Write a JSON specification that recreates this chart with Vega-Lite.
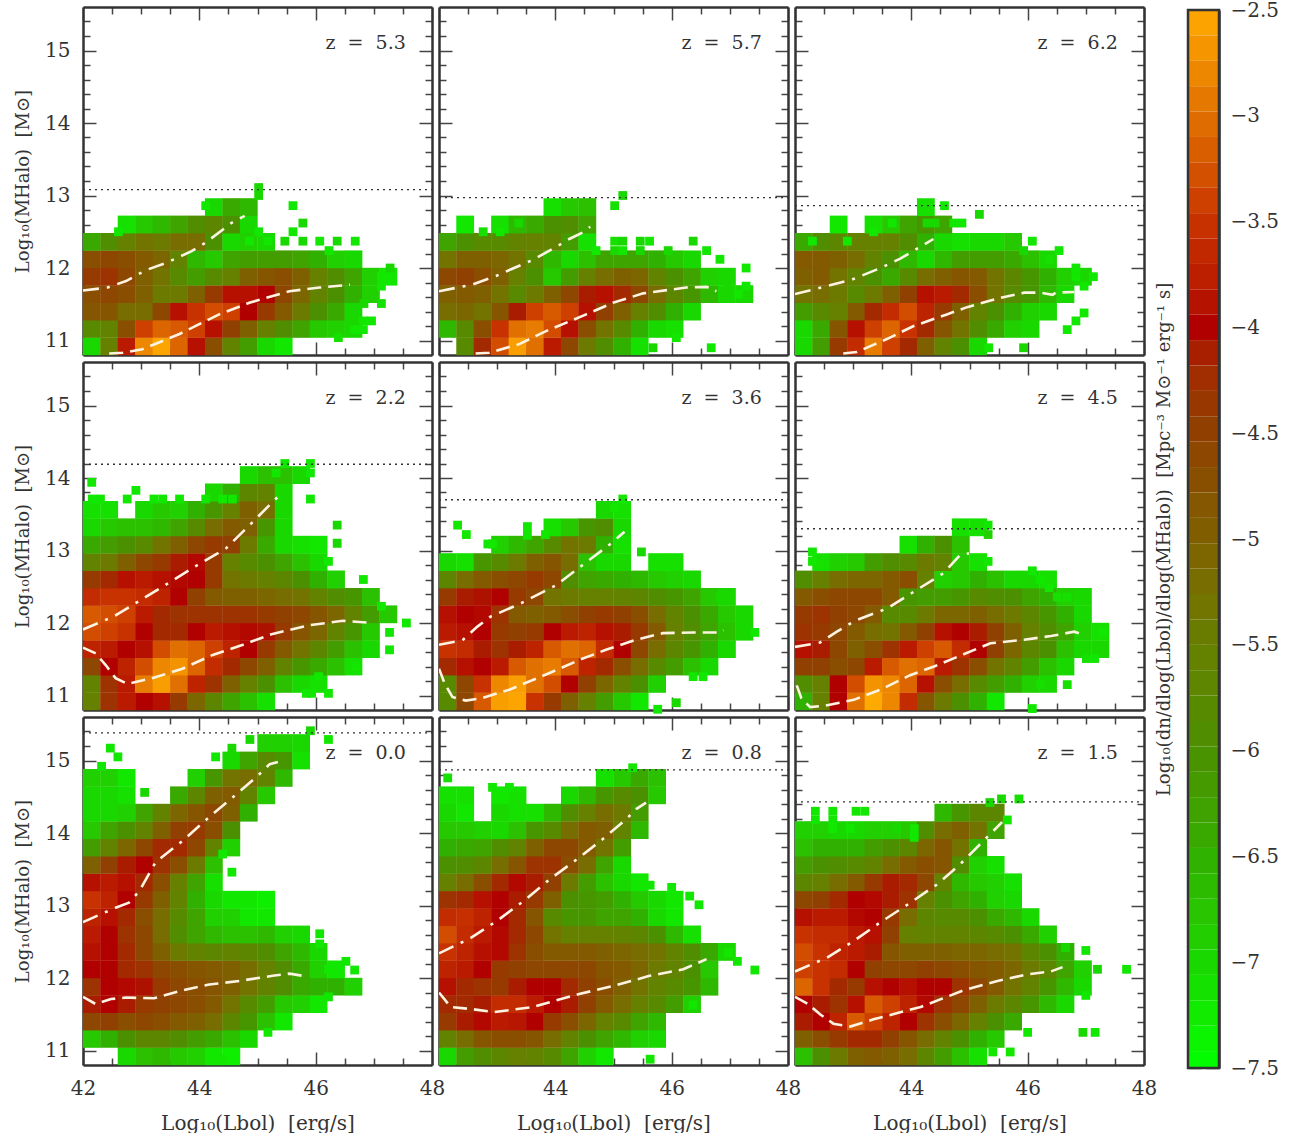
{"$schema":"https://vega.github.io/schema/vega-lite/v6.json","background":"white","padding":{"left":14,"top":0,"right":0,"bottom":0},
"config":{"view":{"stroke":null},"font":"DejaVu Serif","legend":{"disable":true},
"axis":{"grid":false,"domainColor":"#333","domainWidth":2.5,"tickColor":"#444","tickWidth":1.5,"labelColor":"#333","titleColor":"#333","labelFontSize":20,"titleFontSize":18,"titleFontWeight":"normal","zindex":2,"labelOverlap":false,"labelBound":false,"labelFlush":false}},
"datasets":{
"c0":[
{"x":42.75,"y":10.92,"v":-7},{"x":43.05,"y":10.92,"v":-6.7},{"x":43.35,"y":10.92,"v":-6.6},{"x":43.65,"y":10.92,"v":-6.8},{"x":43.95,"y":10.92,"v":-6.9},{"x":44.25,"y":10.92,"v":-7.2},{"x":44.55,"y":10.92,"v":-7.3},
{"x":42.15,"y":11.16,"v":-6.8},{"x":42.45,"y":11.16,"v":-6.5},{"x":42.75,"y":11.16,"v":-6},{"x":43.05,"y":11.16,"v":-5.7},{"x":43.35,"y":11.16,"v":-5.7},{"x":43.65,"y":11.16,"v":-5.9},{"x":43.95,"y":11.16,"v":-6.2},{"x":44.25,"y":11.16,"v":-6.4},{"x":44.55,"y":11.16,"v":-6.7},{"x":44.85,"y":11.16,"v":-7},
{"x":42.15,"y":11.4,"v":-4.6},{"x":42.45,"y":11.4,"v":-4.5},{"x":42.75,"y":11.4,"v":-4.7},{"x":43.05,"y":11.4,"v":-4.6},{"x":43.35,"y":11.4,"v":-4.7},{"x":43.65,"y":11.4,"v":-4.9},{"x":43.95,"y":11.4,"v":-5},{"x":44.25,"y":11.4,"v":-5.2},{"x":44.55,"y":11.4,"v":-5.7},{"x":44.85,"y":11.4,"v":-6.1},{"x":45.15,"y":11.4,"v":-6.7},{"x":45.45,"y":11.4,"v":-7.2},
{"x":42.15,"y":11.64,"v":-4.1},{"x":42.45,"y":11.64,"v":-4},{"x":42.75,"y":11.64,"v":-4.1},{"x":43.05,"y":11.64,"v":-4.4},{"x":43.35,"y":11.64,"v":-4.5},{"x":43.65,"y":11.64,"v":-4.6},{"x":43.95,"y":11.64,"v":-4.7},{"x":44.25,"y":11.64,"v":-4.9},{"x":44.55,"y":11.64,"v":-5.3},{"x":44.85,"y":11.64,"v":-5.8},{"x":45.15,"y":11.64,"v":-6.2},{"x":45.45,"y":11.64,"v":-6.8},{"x":45.75,"y":11.64,"v":-6.9},{"x":46.05,"y":11.64,"v":-7.2},
{"x":42.15,"y":11.88,"v":-4.3},{"x":42.45,"y":11.88,"v":-4},{"x":42.75,"y":11.88,"v":-3.95},{"x":43.05,"y":11.88,"v":-4.05},{"x":43.35,"y":11.88,"v":-4.4},{"x":43.65,"y":11.88,"v":-4.6},{"x":43.95,"y":11.88,"v":-4.7},{"x":44.25,"y":11.88,"v":-4.8},{"x":44.55,"y":11.88,"v":-5},{"x":44.85,"y":11.88,"v":-5.3},{"x":45.15,"y":11.88,"v":-5.6},{"x":45.45,"y":11.88,"v":-5.9},{"x":45.75,"y":11.88,"v":-6.4},{"x":46.05,"y":11.88,"v":-6.5},{"x":46.35,"y":11.88,"v":-6.5},{"x":46.65,"y":11.88,"v":-6.9},
{"x":42.15,"y":12.12,"v":-4},{"x":42.45,"y":12.12,"v":-4},{"x":42.75,"y":12.12,"v":-4.2},{"x":43.05,"y":12.12,"v":-4.3},{"x":43.35,"y":12.12,"v":-4.6},{"x":43.65,"y":12.12,"v":-4.7},{"x":43.95,"y":12.12,"v":-4.8},{"x":44.25,"y":12.12,"v":-4.9},{"x":44.55,"y":12.12,"v":-5},{"x":44.85,"y":12.12,"v":-5.2},{"x":45.15,"y":12.12,"v":-5.5},{"x":45.45,"y":12.12,"v":-5.9},{"x":45.75,"y":12.12,"v":-6.4},{"x":46.05,"y":12.12,"v":-6.9},{"x":46.35,"y":12.12,"v":-7.2},
{"x":42.15,"y":12.36,"v":-3.9},{"x":42.45,"y":12.36,"v":-4},{"x":42.75,"y":12.36,"v":-4.2},{"x":43.05,"y":12.36,"v":-4.6},{"x":43.35,"y":12.36,"v":-5},{"x":43.65,"y":12.36,"v":-5.4},{"x":43.95,"y":12.36,"v":-5.6},{"x":44.25,"y":12.36,"v":-5.7},{"x":44.55,"y":12.36,"v":-5.6},{"x":44.85,"y":12.36,"v":-5.7},{"x":45.15,"y":12.36,"v":-5.9},{"x":45.45,"y":12.36,"v":-6.3},{"x":45.75,"y":12.36,"v":-6.6},{"x":46.05,"y":12.36,"v":-7},
{"x":42.15,"y":12.6,"v":-3.8},{"x":42.45,"y":12.6,"v":-4},{"x":42.75,"y":12.6,"v":-4.3},{"x":43.05,"y":12.6,"v":-4.6},{"x":43.35,"y":12.6,"v":-5.2},{"x":43.65,"y":12.6,"v":-5.9},{"x":43.95,"y":12.6,"v":-6.3},{"x":44.25,"y":12.6,"v":-6.6},{"x":44.55,"y":12.6,"v":-6.7},{"x":44.85,"y":12.6,"v":-6.7},{"x":45.15,"y":12.6,"v":-6.6},{"x":45.45,"y":12.6,"v":-6.9},{"x":45.75,"y":12.6,"v":-7},
{"x":42.15,"y":12.84,"v":-3.7},{"x":42.45,"y":12.84,"v":-3.9},{"x":42.75,"y":12.84,"v":-4.2},{"x":43.05,"y":12.84,"v":-4.7},{"x":43.35,"y":12.84,"v":-5.2},{"x":43.65,"y":12.84,"v":-5.8},{"x":43.95,"y":12.84,"v":-6.3},{"x":44.25,"y":12.84,"v":-6.9},{"x":44.55,"y":12.84,"v":-6.9},{"x":44.85,"y":12.84,"v":-7.2},{"x":45.15,"y":12.84,"v":-7.2},
{"x":42.15,"y":13.08,"v":-3.5},{"x":42.45,"y":13.08,"v":-3.7},{"x":42.75,"y":13.08,"v":-4},{"x":43.05,"y":13.08,"v":-4.4},{"x":43.35,"y":13.08,"v":-5},{"x":43.65,"y":13.08,"v":-5.6},{"x":43.95,"y":13.08,"v":-6.5},{"x":44.25,"y":13.08,"v":-7},{"x":44.55,"y":13.08,"v":-7.2},{"x":44.85,"y":13.08,"v":-7.2},{"x":45.15,"y":13.08,"v":-7.3},
{"x":42.15,"y":13.32,"v":-3.9},{"x":42.45,"y":13.32,"v":-3.8},{"x":42.75,"y":13.32,"v":-3.9},{"x":43.05,"y":13.32,"v":-4.2},{"x":43.35,"y":13.32,"v":-4.7},{"x":43.65,"y":13.32,"v":-5.5},{"x":43.95,"y":13.32,"v":-6.3},{"x":44.25,"y":13.32,"v":-7.1},
{"x":42.15,"y":13.56,"v":-5},{"x":42.45,"y":13.56,"v":-4.5},{"x":42.75,"y":13.56,"v":-4.1},{"x":43.05,"y":13.56,"v":-4},{"x":43.35,"y":13.56,"v":-4.3},{"x":43.65,"y":13.56,"v":-4.7},{"x":43.95,"y":13.56,"v":-5.4},{"x":44.25,"y":13.56,"v":-6.7},
{"x":42.15,"y":13.8,"v":-6.2},{"x":42.45,"y":13.8,"v":-5.6},{"x":42.75,"y":13.8,"v":-5.1},{"x":43.05,"y":13.8,"v":-4.6},{"x":43.35,"y":13.8,"v":-4.2},{"x":43.65,"y":13.8,"v":-4.2},{"x":43.95,"y":13.8,"v":-4.6},{"x":44.25,"y":13.8,"v":-5.6},{"x":44.55,"y":13.8,"v":-6.9},
{"x":42.15,"y":14.04,"v":-6.8},{"x":42.45,"y":14.04,"v":-6.3},{"x":42.75,"y":14.04,"v":-6},{"x":43.05,"y":14.04,"v":-5.6},{"x":43.35,"y":14.04,"v":-5},{"x":43.65,"y":14.04,"v":-4.5},{"x":43.95,"y":14.04,"v":-4.4},{"x":44.25,"y":14.04,"v":-4.7},{"x":44.55,"y":14.04,"v":-6},
{"x":42.15,"y":14.28,"v":-7},{"x":42.45,"y":14.28,"v":-7},{"x":42.75,"y":14.28,"v":-6.9},{"x":43.05,"y":14.28,"v":-6.3},{"x":43.35,"y":14.28,"v":-5.6},{"x":43.65,"y":14.28,"v":-5.1},{"x":43.95,"y":14.28,"v":-4.8},{"x":44.25,"y":14.28,"v":-4.6},{"x":44.55,"y":14.28,"v":-5},{"x":44.85,"y":14.28,"v":-6.5},
{"x":42.15,"y":14.52,"v":-7},{"x":42.45,"y":14.52,"v":-7},{"x":42.75,"y":14.52,"v":-7.1},{"x":43.65,"y":14.52,"v":-6.4},{"x":43.95,"y":14.52,"v":-5.7},{"x":44.25,"y":14.52,"v":-5},{"x":44.55,"y":14.52,"v":-4.9},{"x":44.85,"y":14.52,"v":-5.6},{"x":45.15,"y":14.52,"v":-6.8},
{"x":42.15,"y":14.76,"v":-6.9},{"x":42.45,"y":14.76,"v":-6.9},{"x":42.75,"y":14.76,"v":-7.2},{"x":43.95,"y":14.76,"v":-6.9},{"x":44.25,"y":14.76,"v":-6.1},{"x":44.55,"y":14.76,"v":-5.3},{"x":44.85,"y":14.76,"v":-5.2},{"x":45.15,"y":14.76,"v":-5.6},{"x":45.45,"y":14.76,"v":-6.6},
{"x":44.55,"y":15,"v":-7},{"x":44.85,"y":15,"v":-6.3},{"x":45.15,"y":15,"v":-5.8},{"x":45.45,"y":15,"v":-6.1},{"x":45.75,"y":15,"v":-7.1},
{"x":45.15,"y":15.24,"v":-6.9},{"x":45.45,"y":15.24,"v":-6.9},{"x":45.75,"y":15.24,"v":-7}],
"f0":[{"x":45.91,"y":15.41,"v":-7},{"x":44.87,"y":15.29,"v":-7},{"x":46.22,"y":15.29,"v":-7.2},{"x":42.47,"y":15.17,"v":-7.2},{"x":42.6,"y":15.05,"v":-7.2},{"x":44.56,"y":15.17,"v":-7},{"x":44.28,"y":15.05,"v":-7.2},{"x":42.32,"y":14.92,"v":-7.2},{"x":43.06,"y":14.56,"v":-7},{"x":44.56,"y":13.46,"v":-7.2},{"x":44.4,"y":13.71,"v":-7.2},{"x":46.07,"y":12.61,"v":-7.2},{"x":46.07,"y":12.47,"v":-7.2},{"x":46.52,"y":12.23,"v":-7.2},{"x":46.67,"y":12.11,"v":-7.2},{"x":46.22,"y":11.74,"v":-7.2},{"x":44.4,"y":10.88,"v":-7.2},{"x":45.18,"y":11.25,"v":-7.2},{"x":46.22,"y":12.12,"v":-7.2}],
"a0":[{"x":42,"y":11.74},{"x":42.22,"y":11.64},{"x":42.48,"y":11.71},{"x":42.74,"y":11.73},{"x":43.22,"y":11.72},{"x":43.71,"y":11.83},{"x":44.17,"y":11.91},{"x":44.69,"y":11.96},{"x":45.26,"y":12.03},{"x":45.55,"y":12.06},{"x":45.78,"y":12.03}],
"b0":[{"x":42,"y":12.77},{"x":42.56,"y":12.97},{"x":42.79,"y":13.04},{"x":42.97,"y":13.2},{"x":43.25,"y":13.6},{"x":43.71,"y":13.89},{"x":44.17,"y":14.22},{"x":44.57,"y":14.49},{"x":44.98,"y":14.77},{"x":45.21,"y":14.95},{"x":45.35,"y":14.98}],
"c1":[
{"x":42.15,"y":10.92,"v":-7},{"x":42.45,"y":10.92,"v":-6.2},{"x":42.75,"y":10.92,"v":-5.9},{"x":43.05,"y":10.92,"v":-5.7},{"x":43.35,"y":10.92,"v":-5.5},{"x":43.65,"y":10.92,"v":-5.6},{"x":43.95,"y":10.92,"v":-5.8},{"x":44.25,"y":10.92,"v":-6.3},{"x":44.55,"y":10.92,"v":-6.9},{"x":44.85,"y":10.92,"v":-7.2},
{"x":42.15,"y":11.16,"v":-5.6},{"x":42.45,"y":11.16,"v":-5.2},{"x":42.75,"y":11.16,"v":-4.8},{"x":43.05,"y":11.16,"v":-4.7},{"x":43.35,"y":11.16,"v":-4.7},{"x":43.65,"y":11.16,"v":-4.8},{"x":43.95,"y":11.16,"v":-5.2},{"x":44.25,"y":11.16,"v":-5.6},{"x":44.55,"y":11.16,"v":-6},{"x":44.85,"y":11.16,"v":-6.3},{"x":45.15,"y":11.16,"v":-6.6},{"x":45.45,"y":11.16,"v":-6.9},{"x":45.75,"y":11.16,"v":-7},
{"x":42.15,"y":11.4,"v":-4.4},{"x":42.45,"y":11.4,"v":-4.1},{"x":42.75,"y":11.4,"v":-3.95},{"x":43.05,"y":11.4,"v":-3.8},{"x":43.35,"y":11.4,"v":-3.85},{"x":43.65,"y":11.4,"v":-4},{"x":43.95,"y":11.4,"v":-4.4},{"x":44.25,"y":11.4,"v":-4.7},{"x":44.55,"y":11.4,"v":-5.1},{"x":44.85,"y":11.4,"v":-5.5},{"x":45.15,"y":11.4,"v":-5.8},{"x":45.45,"y":11.4,"v":-6.3},{"x":45.75,"y":11.4,"v":-6.6},
{"x":42.15,"y":11.64,"v":-4.2},{"x":42.45,"y":11.64,"v":-4.2},{"x":42.75,"y":11.64,"v":-4.1},{"x":43.05,"y":11.64,"v":-3.6},{"x":43.35,"y":11.64,"v":-3.6},{"x":43.65,"y":11.64,"v":-3.8},{"x":43.95,"y":11.64,"v":-4},{"x":44.25,"y":11.64,"v":-4.1},{"x":44.55,"y":11.64,"v":-4.5},{"x":44.85,"y":11.64,"v":-4.9},{"x":45.15,"y":11.64,"v":-5.2},{"x":45.45,"y":11.64,"v":-5.5},{"x":45.75,"y":11.64,"v":-5.8},{"x":46.05,"y":11.64,"v":-6.2},{"x":46.35,"y":11.64,"v":-6.9},
{"x":42.15,"y":11.88,"v":-3.9},{"x":42.45,"y":11.88,"v":-4.2},{"x":42.75,"y":11.88,"v":-4.3},{"x":43.05,"y":11.88,"v":-4.4},{"x":43.35,"y":11.88,"v":-4.1},{"x":43.65,"y":11.88,"v":-4},{"x":43.95,"y":11.88,"v":-4},{"x":44.25,"y":11.88,"v":-4.2},{"x":44.55,"y":11.88,"v":-4.5},{"x":44.85,"y":11.88,"v":-4.7},{"x":45.15,"y":11.88,"v":-5},{"x":45.45,"y":11.88,"v":-5.3},{"x":45.75,"y":11.88,"v":-5.6},{"x":46.05,"y":11.88,"v":-5.8},{"x":46.35,"y":11.88,"v":-6.1},{"x":46.65,"y":11.88,"v":-6.6},
{"x":42.15,"y":12.12,"v":-3.7},{"x":42.45,"y":12.12,"v":-3.8},{"x":42.75,"y":12.12,"v":-4},{"x":43.05,"y":12.12,"v":-4.4},{"x":43.35,"y":12.12,"v":-4.5},{"x":43.65,"y":12.12,"v":-4.6},{"x":43.95,"y":12.12,"v":-4.6},{"x":44.25,"y":12.12,"v":-4.6},{"x":44.55,"y":12.12,"v":-4.6},{"x":44.85,"y":12.12,"v":-4.8},{"x":45.15,"y":12.12,"v":-4.9},{"x":45.45,"y":12.12,"v":-5.1},{"x":45.75,"y":12.12,"v":-5.4},{"x":46.05,"y":12.12,"v":-5.6},{"x":46.35,"y":12.12,"v":-6},{"x":46.65,"y":12.12,"v":-6.8},
{"x":42.15,"y":12.36,"v":-3.5},{"x":42.45,"y":12.36,"v":-3.7},{"x":42.75,"y":12.36,"v":-3.9},{"x":43.05,"y":12.36,"v":-3.95},{"x":43.35,"y":12.36,"v":-4.3},{"x":43.65,"y":12.36,"v":-4.7},{"x":43.95,"y":12.36,"v":-4.9},{"x":44.25,"y":12.36,"v":-4.9},{"x":44.55,"y":12.36,"v":-4.9},{"x":44.85,"y":12.36,"v":-5},{"x":45.15,"y":12.36,"v":-5.1},{"x":45.45,"y":12.36,"v":-5.2},{"x":45.75,"y":12.36,"v":-5.3},{"x":46.05,"y":12.36,"v":-5.6},{"x":46.35,"y":12.36,"v":-5.9},{"x":46.65,"y":12.36,"v":-6.4},{"x":46.95,"y":12.36,"v":-7},
{"x":42.15,"y":12.6,"v":-3.3},{"x":42.45,"y":12.6,"v":-3.6},{"x":42.75,"y":12.6,"v":-3.8},{"x":43.05,"y":12.6,"v":-3.95},{"x":43.35,"y":12.6,"v":-4.2},{"x":43.65,"y":12.6,"v":-4.6},{"x":43.95,"y":12.6,"v":-5.3},{"x":44.25,"y":12.6,"v":-5.5},{"x":44.55,"y":12.6,"v":-5.5},{"x":44.85,"y":12.6,"v":-5.5},{"x":45.15,"y":12.6,"v":-5.6},{"x":45.45,"y":12.6,"v":-5.7},{"x":45.75,"y":12.6,"v":-6},{"x":46.05,"y":12.6,"v":-6.6},{"x":46.35,"y":12.6,"v":-7.1},
{"x":42.15,"y":12.84,"v":-3.6},{"x":42.45,"y":12.84,"v":-3.55},{"x":42.75,"y":12.84,"v":-3.7},{"x":43.05,"y":12.84,"v":-4},{"x":43.35,"y":12.84,"v":-4.2},{"x":43.65,"y":12.84,"v":-4.8},{"x":43.95,"y":12.84,"v":-5.8},{"x":44.25,"y":12.84,"v":-6.1},{"x":44.55,"y":12.84,"v":-6.1},{"x":44.85,"y":12.84,"v":-6.3},{"x":45.15,"y":12.84,"v":-6.3},{"x":45.45,"y":12.84,"v":-6.5},{"x":45.75,"y":12.84,"v":-7},{"x":46.05,"y":12.84,"v":-7.2},
{"x":42.15,"y":13.08,"v":-4.3},{"x":42.45,"y":13.08,"v":-4.2},{"x":42.75,"y":13.08,"v":-3.9},{"x":43.05,"y":13.08,"v":-4},{"x":43.35,"y":13.08,"v":-4.1},{"x":43.65,"y":13.08,"v":-4.4},{"x":43.95,"y":13.08,"v":-5},{"x":44.25,"y":13.08,"v":-6},{"x":44.55,"y":13.08,"v":-6.1},{"x":44.85,"y":13.08,"v":-6.2},{"x":45.15,"y":13.08,"v":-6.5},{"x":45.45,"y":13.08,"v":-6.8},{"x":45.75,"y":13.08,"v":-7},{"x":46.05,"y":13.08,"v":-7.2},
{"x":42.15,"y":13.32,"v":-5.5},{"x":42.45,"y":13.32,"v":-5.2},{"x":42.75,"y":13.32,"v":-4.7},{"x":43.05,"y":13.32,"v":-4.2},{"x":43.35,"y":13.32,"v":-3.95},{"x":43.65,"y":13.32,"v":-4.1},{"x":43.95,"y":13.32,"v":-4.5},{"x":44.25,"y":13.32,"v":-5.4},{"x":44.55,"y":13.32,"v":-6.2},{"x":44.85,"y":13.32,"v":-6.7},{"x":45.15,"y":13.32,"v":-7},{"x":45.45,"y":13.32,"v":-7.2},
{"x":42.15,"y":13.56,"v":-6},{"x":42.45,"y":13.56,"v":-5.9},{"x":42.75,"y":13.56,"v":-5.7},{"x":43.05,"y":13.56,"v":-5.2},{"x":43.35,"y":13.56,"v":-4.8},{"x":43.65,"y":13.56,"v":-4.3},{"x":43.95,"y":13.56,"v":-4.3},{"x":44.25,"y":13.56,"v":-4.7},{"x":44.55,"y":13.56,"v":-5.2},{"x":44.85,"y":13.56,"v":-6.3},{"x":45.15,"y":13.56,"v":-7},
{"x":42.15,"y":13.8,"v":-6.5},{"x":42.45,"y":13.8,"v":-6.4},{"x":42.75,"y":13.8,"v":-6.3},{"x":43.05,"y":13.8,"v":-5.9},{"x":43.35,"y":13.8,"v":-5.6},{"x":43.65,"y":13.8,"v":-5},{"x":43.95,"y":13.8,"v":-4.6},{"x":44.25,"y":13.8,"v":-4.6},{"x":44.55,"y":13.8,"v":-4.9},{"x":44.85,"y":13.8,"v":-5.3},{"x":45.15,"y":13.8,"v":-6.2},
{"x":42.15,"y":14.04,"v":-6.8},{"x":42.45,"y":14.04,"v":-6.8},{"x":42.75,"y":14.04,"v":-6.9},{"x":43.05,"y":14.04,"v":-7},{"x":43.35,"y":14.04,"v":-6.7},{"x":43.65,"y":14.04,"v":-6.1},{"x":43.95,"y":14.04,"v":-5.8},{"x":44.25,"y":14.04,"v":-5.2},{"x":44.55,"y":14.04,"v":-4.9},{"x":44.85,"y":14.04,"v":-5},{"x":45.15,"y":14.04,"v":-5.6},{"x":45.45,"y":14.04,"v":-6.6},
{"x":42.15,"y":14.28,"v":-7},{"x":42.45,"y":14.28,"v":-7.2},{"x":43.05,"y":14.28,"v":-7},{"x":43.35,"y":14.28,"v":-7.1},{"x":43.65,"y":14.28,"v":-7.1},{"x":43.95,"y":14.28,"v":-6.6},{"x":44.25,"y":14.28,"v":-5.9},{"x":44.55,"y":14.28,"v":-5.5},{"x":44.85,"y":14.28,"v":-5.2},{"x":45.15,"y":14.28,"v":-5.4},{"x":45.45,"y":14.28,"v":-6.2},
{"x":42.15,"y":14.52,"v":-7.1},{"x":42.45,"y":14.52,"v":-7.1},{"x":43.05,"y":14.52,"v":-7.2},{"x":43.35,"y":14.52,"v":-7.1},{"x":44.25,"y":14.52,"v":-7},{"x":44.55,"y":14.52,"v":-6.6},{"x":44.85,"y":14.52,"v":-6.1},{"x":45.15,"y":14.52,"v":-5.8},{"x":45.45,"y":14.52,"v":-6},{"x":45.75,"y":14.52,"v":-6.8},
{"x":44.85,"y":14.76,"v":-7.1},{"x":45.15,"y":14.76,"v":-6.8},{"x":45.45,"y":14.76,"v":-6.4},{"x":45.75,"y":14.76,"v":-6.7}],
"f1":[{"x":42.15,"y":14.76,"v":-7.1},{"x":42.92,"y":14.63,"v":-7.2},{"x":43.21,"y":14.63,"v":-7.2},{"x":43.06,"y":14.51,"v":-7.2},{"x":45.33,"y":14.9,"v":-7.2},{"x":45.63,"y":10.88,"v":-7.2},{"x":47.43,"y":12.11,"v":-7.2},{"x":47.13,"y":12.23,"v":-7.2},{"x":46.98,"y":12.35,"v":-7.2},{"x":46.37,"y":11.63,"v":-7.2},{"x":45.63,"y":13.28,"v":-7.2},{"x":46,"y":13.25,"v":-7.2},{"x":46.31,"y":13.13,"v":-7.2},{"x":46.47,"y":13.01,"v":-7.2}],
"a1":[{"x":42,"y":11.8},{"x":42.2,"y":11.6},{"x":42.57,"y":11.57},{"x":42.95,"y":11.53},{"x":43.61,"y":11.6},{"x":44.41,"y":11.78},{"x":45,"y":11.89},{"x":45.62,"y":12.03},{"x":46.2,"y":12.12},{"x":46.6,"y":12.26}],
"b1":[{"x":42,"y":12.34},{"x":42.52,"y":12.54},{"x":43,"y":12.79},{"x":43.47,"y":13.07},{"x":43.9,"y":13.36},{"x":44.36,"y":13.63},{"x":44.79,"y":13.9},{"x":45.22,"y":14.19},{"x":45.39,"y":14.33},{"x":45.56,"y":14.42}],
"c2":[
{"x":42.15,"y":10.92,"v":-6.7},{"x":42.45,"y":10.92,"v":-6},{"x":42.75,"y":10.92,"v":-5.4},{"x":43.05,"y":10.92,"v":-5},{"x":43.35,"y":10.92,"v":-4.9},{"x":43.65,"y":10.92,"v":-5},{"x":43.95,"y":10.92,"v":-5.2},{"x":44.25,"y":10.92,"v":-5.7},{"x":44.55,"y":10.92,"v":-6.2},{"x":44.85,"y":10.92,"v":-6.7},{"x":45.15,"y":10.92,"v":-7.1},
{"x":42.15,"y":11.16,"v":-5},{"x":42.45,"y":11.16,"v":-4.7},{"x":42.75,"y":11.16,"v":-4.4},{"x":43.05,"y":11.16,"v":-4.2},{"x":43.35,"y":11.16,"v":-4.2},{"x":43.65,"y":11.16,"v":-4.5},{"x":43.95,"y":11.16,"v":-4.8},{"x":44.25,"y":11.16,"v":-5.2},{"x":44.55,"y":11.16,"v":-5.6},{"x":44.85,"y":11.16,"v":-6},{"x":45.15,"y":11.16,"v":-6.5},{"x":45.45,"y":11.16,"v":-6.8},
{"x":42.15,"y":11.4,"v":-4.1},{"x":42.45,"y":11.4,"v":-4},{"x":42.75,"y":11.4,"v":-3.7},{"x":43.05,"y":11.4,"v":-3.2},{"x":43.35,"y":11.4,"v":-3.4},{"x":43.65,"y":11.4,"v":-3.7},{"x":43.95,"y":11.4,"v":-4},{"x":44.25,"y":11.4,"v":-4.3},{"x":44.55,"y":11.4,"v":-4.7},{"x":44.85,"y":11.4,"v":-5.1},{"x":45.15,"y":11.4,"v":-5.5},{"x":45.45,"y":11.4,"v":-6},{"x":45.75,"y":11.4,"v":-6.4},
{"x":42.15,"y":11.64,"v":-4},{"x":42.45,"y":11.64,"v":-4.1},{"x":42.75,"y":11.64,"v":-4.3},{"x":43.05,"y":11.64,"v":-3.9},{"x":43.35,"y":11.64,"v":-3.2},{"x":43.65,"y":11.64,"v":-3.4},{"x":43.95,"y":11.64,"v":-3.7},{"x":44.25,"y":11.64,"v":-3.95},{"x":44.55,"y":11.64,"v":-4.3},{"x":44.85,"y":11.64,"v":-4.6},{"x":45.15,"y":11.64,"v":-5},{"x":45.45,"y":11.64,"v":-5.4},{"x":45.75,"y":11.64,"v":-5.7},{"x":46.05,"y":11.64,"v":-6.1},{"x":46.35,"y":11.64,"v":-6.6},{"x":46.65,"y":11.64,"v":-7},
{"x":42.15,"y":11.88,"v":-3.1},{"x":42.45,"y":11.88,"v":-3.5},{"x":42.75,"y":11.88,"v":-4.2},{"x":43.05,"y":11.88,"v":-4.4},{"x":43.35,"y":11.88,"v":-3.9},{"x":43.65,"y":11.88,"v":-4},{"x":43.95,"y":11.88,"v":-3.9},{"x":44.25,"y":11.88,"v":-4},{"x":44.55,"y":11.88,"v":-4},{"x":44.85,"y":11.88,"v":-4.3},{"x":45.15,"y":11.88,"v":-4.6},{"x":45.45,"y":11.88,"v":-4.9},{"x":45.75,"y":11.88,"v":-5.3},{"x":46.05,"y":11.88,"v":-5.6},{"x":46.35,"y":11.88,"v":-6.1},{"x":46.65,"y":11.88,"v":-6.6},{"x":46.95,"y":11.88,"v":-7},
{"x":42.15,"y":12.12,"v":-3.4},{"x":42.45,"y":12.12,"v":-3.5},{"x":42.75,"y":12.12,"v":-3.6},{"x":43.05,"y":12.12,"v":-4},{"x":43.35,"y":12.12,"v":-4.5},{"x":43.65,"y":12.12,"v":-4.6},{"x":43.95,"y":12.12,"v":-4.6},{"x":44.25,"y":12.12,"v":-4.5},{"x":44.55,"y":12.12,"v":-4.6},{"x":44.85,"y":12.12,"v":-4.7},{"x":45.15,"y":12.12,"v":-4.8},{"x":45.45,"y":12.12,"v":-4.9},{"x":45.75,"y":12.12,"v":-5.1},{"x":46.05,"y":12.12,"v":-5.4},{"x":46.35,"y":12.12,"v":-5.7},{"x":46.65,"y":12.12,"v":-6.3},{"x":46.95,"y":12.12,"v":-6.9},
{"x":42.15,"y":12.36,"v":-3.3},{"x":42.45,"y":12.36,"v":-3.5},{"x":42.75,"y":12.36,"v":-3.7},{"x":43.05,"y":12.36,"v":-3.8},{"x":43.35,"y":12.36,"v":-4.1},{"x":43.65,"y":12.36,"v":-4.8},{"x":43.95,"y":12.36,"v":-5},{"x":44.25,"y":12.36,"v":-5},{"x":44.55,"y":12.36,"v":-5},{"x":44.85,"y":12.36,"v":-5.1},{"x":45.15,"y":12.36,"v":-5.1},{"x":45.45,"y":12.36,"v":-5.2},{"x":45.75,"y":12.36,"v":-5.3},{"x":46.05,"y":12.36,"v":-5.7},{"x":46.35,"y":12.36,"v":-6},{"x":46.65,"y":12.36,"v":-6.5},
{"x":42.15,"y":12.6,"v":-3.5},{"x":42.45,"y":12.6,"v":-3.6},{"x":42.75,"y":12.6,"v":-3.6},{"x":43.05,"y":12.6,"v":-3.8},{"x":43.35,"y":12.6,"v":-3.9},{"x":43.65,"y":12.6,"v":-4.5},{"x":43.95,"y":12.6,"v":-5.5},{"x":44.25,"y":12.6,"v":-5.6},{"x":44.55,"y":12.6,"v":-5.6},{"x":44.85,"y":12.6,"v":-5.6},{"x":45.15,"y":12.6,"v":-5.7},{"x":45.45,"y":12.6,"v":-5.8},{"x":45.75,"y":12.6,"v":-6},{"x":46.05,"y":12.6,"v":-6.4},{"x":46.35,"y":12.6,"v":-6.9},
{"x":42.15,"y":12.84,"v":-3.9},{"x":42.45,"y":12.84,"v":-3.8},{"x":42.75,"y":12.84,"v":-3.8},{"x":43.05,"y":12.84,"v":-3.95},{"x":43.35,"y":12.84,"v":-4},{"x":43.65,"y":12.84,"v":-4.4},{"x":43.95,"y":12.84,"v":-5.2},{"x":44.25,"y":12.84,"v":-5.7},{"x":44.55,"y":12.84,"v":-5.8},{"x":44.85,"y":12.84,"v":-5.8},{"x":45.15,"y":12.84,"v":-6},{"x":45.45,"y":12.84,"v":-6.4},{"x":45.75,"y":12.84,"v":-6.6},{"x":46.05,"y":12.84,"v":-7},
{"x":42.15,"y":13.08,"v":-4.6},{"x":42.45,"y":13.08,"v":-4.5},{"x":42.75,"y":13.08,"v":-4.2},{"x":43.05,"y":13.08,"v":-4},{"x":43.35,"y":13.08,"v":-3.95},{"x":43.65,"y":13.08,"v":-4.1},{"x":43.95,"y":13.08,"v":-4.3},{"x":44.25,"y":13.08,"v":-5.5},{"x":44.55,"y":13.08,"v":-6},{"x":44.85,"y":13.08,"v":-6.3},{"x":45.15,"y":13.08,"v":-6.5},{"x":45.45,"y":13.08,"v":-6.9},{"x":45.75,"y":13.08,"v":-7},
{"x":42.15,"y":13.32,"v":-5.7},{"x":42.45,"y":13.32,"v":-5.5},{"x":42.75,"y":13.32,"v":-5.2},{"x":43.05,"y":13.32,"v":-4.9},{"x":43.35,"y":13.32,"v":-4.4},{"x":43.65,"y":13.32,"v":-4.1},{"x":43.95,"y":13.32,"v":-4.2},{"x":44.25,"y":13.32,"v":-4.6},{"x":44.55,"y":13.32,"v":-5.6},{"x":44.85,"y":13.32,"v":-6.6},{"x":45.15,"y":13.32,"v":-6.8},{"x":45.45,"y":13.32,"v":-6.9},{"x":45.75,"y":13.32,"v":-7.1},
{"x":42.15,"y":13.56,"v":-6.2},{"x":42.45,"y":13.56,"v":-6},{"x":42.75,"y":13.56,"v":-5.9},{"x":43.05,"y":13.56,"v":-5.8},{"x":43.35,"y":13.56,"v":-5.6},{"x":43.65,"y":13.56,"v":-5.2},{"x":43.95,"y":13.56,"v":-4.9},{"x":44.25,"y":13.56,"v":-4.7},{"x":44.55,"y":13.56,"v":-4.8},{"x":44.85,"y":13.56,"v":-5.9},{"x":45.15,"y":13.56,"v":-6.9},{"x":45.45,"y":13.56,"v":-7.1},
{"x":42.15,"y":13.8,"v":-6.7},{"x":42.45,"y":13.8,"v":-6.5},{"x":42.75,"y":13.8,"v":-6.5},{"x":43.05,"y":13.8,"v":-6.5},{"x":43.35,"y":13.8,"v":-6.2},{"x":43.65,"y":13.8,"v":-6},{"x":43.95,"y":13.8,"v":-5.7},{"x":44.25,"y":13.8,"v":-5.1},{"x":44.55,"y":13.8,"v":-4.8},{"x":44.85,"y":13.8,"v":-5.3},{"x":45.15,"y":13.8,"v":-6.5},
{"x":42.15,"y":14.04,"v":-6.9},{"x":42.45,"y":14.04,"v":-6.9},{"x":42.75,"y":14.04,"v":-7},{"x":43.05,"y":14.04,"v":-7},{"x":43.35,"y":14.04,"v":-6.9},{"x":43.65,"y":14.04,"v":-6.9},{"x":43.95,"y":14.04,"v":-6.8},{"x":44.25,"y":14.04,"v":-5.9},{"x":44.55,"y":14.04,"v":-5.2},{"x":44.85,"y":14.04,"v":-5},{"x":45.15,"y":14.04,"v":-5.3},{"x":45.45,"y":14.04,"v":-6.3},
{"x":44.55,"y":14.28,"v":-6.6},{"x":44.85,"y":14.28,"v":-6.1},{"x":45.15,"y":14.28,"v":-5.7},{"x":45.45,"y":14.28,"v":-5.7}],
"f2":[{"x":42.35,"y":14.18,"v":-7.2},{"x":42.65,"y":14.18,"v":-7.2},{"x":42.35,"y":14.3,"v":-7.2},{"x":42.65,"y":14.3,"v":-7.2},{"x":42.65,"y":14.06,"v":-7.2},{"x":43.2,"y":14.3,"v":-7.2},{"x":42.95,"y":14.06,"v":-7.2},{"x":43.05,"y":14.3,"v":-7.2},{"x":43.75,"y":14.06,"v":-7},{"x":44.05,"y":14.06,"v":-7.2},{"x":44.05,"y":13.94,"v":-7.2},{"x":45.55,"y":14.47,"v":-7},{"x":45.85,"y":14.47,"v":-7.1},{"x":45.35,"y":14.42,"v":-7},{"x":45.65,"y":14.18,"v":-7.2},{"x":47.16,"y":11.25,"v":-7.2},{"x":46.95,"y":11.25,"v":-7},{"x":47,"y":12.38,"v":-7.2},{"x":47.2,"y":12.12,"v":-7},{"x":47.7,"y":12.12,"v":-7.2},{"x":47,"y":11.76,"v":-7.2},{"x":45.7,"y":10.98,"v":-7.2},{"x":45.4,"y":10.98,"v":-7.2},{"x":46,"y":11.25,"v":-7.2},{"x":46.65,"y":12.42,"v":-7}],
"a2":[{"x":42,"y":11.74},{"x":42.23,"y":11.64},{"x":42.43,"y":11.5},{"x":42.66,"y":11.37},{"x":42.95,"y":11.33},{"x":43.35,"y":11.43},{"x":44.16,"y":11.6},{"x":44.9,"y":11.83},{"x":45.48,"y":11.96},{"x":45.99,"y":12.05},{"x":46.4,"y":12.09},{"x":46.6,"y":12.15}],
"b2":[{"x":42,"y":12.09},{"x":42.55,"y":12.28},{"x":43.01,"y":12.51},{"x":43.49,"y":12.78},{"x":43.95,"y":13.02},{"x":44.44,"y":13.29},{"x":44.84,"y":13.57},{"x":45.25,"y":13.9},{"x":45.56,"y":14.15}],
"c3":[
{"x":42.15,"y":10.92,"v":-5.5},{"x":42.45,"y":10.92,"v":-4.3},{"x":42.75,"y":10.92,"v":-3.8},{"x":43.05,"y":10.92,"v":-4},{"x":43.35,"y":10.92,"v":-3.9},{"x":43.65,"y":10.92,"v":-4.4},{"x":43.95,"y":10.92,"v":-5.1},{"x":44.25,"y":10.92,"v":-5.7},{"x":44.55,"y":10.92,"v":-6.3},{"x":44.85,"y":10.92,"v":-6.7},{"x":45.15,"y":10.92,"v":-7.1},
{"x":42.15,"y":11.16,"v":-5.6},{"x":42.45,"y":11.16,"v":-4.3},{"x":42.75,"y":11.16,"v":-3.8},{"x":43.05,"y":11.16,"v":-2.9},{"x":43.35,"y":11.16,"v":-2.6},{"x":43.65,"y":11.16,"v":-3},{"x":43.95,"y":11.16,"v":-3.7},{"x":44.25,"y":11.16,"v":-4.3},{"x":44.55,"y":11.16,"v":-5},{"x":44.85,"y":11.16,"v":-5.5},{"x":45.15,"y":11.16,"v":-6},{"x":45.45,"y":11.16,"v":-6.7},{"x":45.75,"y":11.16,"v":-7},{"x":46.05,"y":11.16,"v":-7.1},
{"x":42.15,"y":11.4,"v":-4.6},{"x":42.45,"y":11.4,"v":-4},{"x":42.75,"y":11.4,"v":-3.7},{"x":43.05,"y":11.4,"v":-3.3},{"x":43.35,"y":11.4,"v":-2.8},{"x":43.65,"y":11.4,"v":-2.7},{"x":43.95,"y":11.4,"v":-3.1},{"x":44.25,"y":11.4,"v":-3.6},{"x":44.55,"y":11.4,"v":-4.2},{"x":44.85,"y":11.4,"v":-4.6},{"x":45.15,"y":11.4,"v":-5},{"x":45.45,"y":11.4,"v":-5.6},{"x":45.75,"y":11.4,"v":-6.1},{"x":46.05,"y":11.4,"v":-6.4},{"x":46.35,"y":11.4,"v":-6.7},{"x":46.65,"y":11.4,"v":-7.1},
{"x":42.15,"y":11.64,"v":-3.7},{"x":42.45,"y":11.64,"v":-3.8},{"x":42.75,"y":11.64,"v":-4},{"x":43.05,"y":11.64,"v":-3.9},{"x":43.35,"y":11.64,"v":-3.3},{"x":43.65,"y":11.64,"v":-3},{"x":43.95,"y":11.64,"v":-3.1},{"x":44.25,"y":11.64,"v":-3.4},{"x":44.55,"y":11.64,"v":-3.7},{"x":44.85,"y":11.64,"v":-4},{"x":45.15,"y":11.64,"v":-4.4},{"x":45.45,"y":11.64,"v":-4.9},{"x":45.75,"y":11.64,"v":-5.3},{"x":46.05,"y":11.64,"v":-5.7},{"x":46.35,"y":11.64,"v":-6.2},{"x":46.65,"y":11.64,"v":-6.7},{"x":46.95,"y":11.64,"v":-7},
{"x":42.15,"y":11.88,"v":-3.3},{"x":42.45,"y":11.88,"v":-3.4},{"x":42.75,"y":11.88,"v":-3.5},{"x":43.05,"y":11.88,"v":-4},{"x":43.35,"y":11.88,"v":-4.2},{"x":43.65,"y":11.88,"v":-4.2},{"x":43.95,"y":11.88,"v":-4},{"x":44.25,"y":11.88,"v":-3.8},{"x":44.55,"y":11.88,"v":-3.9},{"x":44.85,"y":11.88,"v":-3.95},{"x":45.15,"y":11.88,"v":-4.05},{"x":45.45,"y":11.88,"v":-4.4},{"x":45.75,"y":11.88,"v":-4.8},{"x":46.05,"y":11.88,"v":-5.1},{"x":46.35,"y":11.88,"v":-5.6},{"x":46.65,"y":11.88,"v":-6.1},{"x":46.95,"y":11.88,"v":-6.8},
{"x":42.15,"y":12.12,"v":-3.2},{"x":42.45,"y":12.12,"v":-3.3},{"x":42.75,"y":12.12,"v":-3.4},{"x":43.05,"y":12.12,"v":-3.8},{"x":43.35,"y":12.12,"v":-4.2},{"x":43.65,"y":12.12,"v":-4.3},{"x":43.95,"y":12.12,"v":-4.3},{"x":44.25,"y":12.12,"v":-4.3},{"x":44.55,"y":12.12,"v":-4.3},{"x":44.85,"y":12.12,"v":-4.3},{"x":45.15,"y":12.12,"v":-4.4},{"x":45.45,"y":12.12,"v":-4.5},{"x":45.75,"y":12.12,"v":-4.6},{"x":46.05,"y":12.12,"v":-4.8},{"x":46.35,"y":12.12,"v":-5.1},{"x":46.65,"y":12.12,"v":-5.6},{"x":46.95,"y":12.12,"v":-6.2},{"x":47.25,"y":12.12,"v":-6.8},
{"x":42.15,"y":12.36,"v":-3.6},{"x":42.45,"y":12.36,"v":-3.5},{"x":42.75,"y":12.36,"v":-3.5},{"x":43.05,"y":12.36,"v":-3.6},{"x":43.35,"y":12.36,"v":-3.7},{"x":43.65,"y":12.36,"v":-4},{"x":43.95,"y":12.36,"v":-4.5},{"x":44.25,"y":12.36,"v":-4.9},{"x":44.55,"y":12.36,"v":-5},{"x":44.85,"y":12.36,"v":-5},{"x":45.15,"y":12.36,"v":-5.1},{"x":45.45,"y":12.36,"v":-5.2},{"x":45.75,"y":12.36,"v":-5.3},{"x":46.05,"y":12.36,"v":-5.6},{"x":46.35,"y":12.36,"v":-5.9},{"x":46.65,"y":12.36,"v":-6.1},{"x":46.95,"y":12.36,"v":-6.7},
{"x":42.15,"y":12.6,"v":-4.4},{"x":42.45,"y":12.6,"v":-4.2},{"x":42.75,"y":12.6,"v":-3.9},{"x":43.05,"y":12.6,"v":-3.8},{"x":43.35,"y":12.6,"v":-3.9},{"x":43.65,"y":12.6,"v":-3.95},{"x":43.95,"y":12.6,"v":-4},{"x":44.25,"y":12.6,"v":-4.4},{"x":44.55,"y":12.6,"v":-5.3},{"x":44.85,"y":12.6,"v":-5.4},{"x":45.15,"y":12.6,"v":-5.5},{"x":45.45,"y":12.6,"v":-5.7},{"x":45.75,"y":12.6,"v":-6},{"x":46.05,"y":12.6,"v":-6.5},{"x":46.35,"y":12.6,"v":-6.9},
{"x":42.15,"y":12.84,"v":-5.6},{"x":42.45,"y":12.84,"v":-5.4},{"x":42.75,"y":12.84,"v":-5},{"x":43.05,"y":12.84,"v":-4.6},{"x":43.35,"y":12.84,"v":-4.4},{"x":43.65,"y":12.84,"v":-4.1},{"x":43.95,"y":12.84,"v":-3.95},{"x":44.25,"y":12.84,"v":-4.4},{"x":44.55,"y":12.84,"v":-5.5},{"x":44.85,"y":12.84,"v":-5.8},{"x":45.15,"y":12.84,"v":-6},{"x":45.45,"y":12.84,"v":-6.3},{"x":45.75,"y":12.84,"v":-6.7},{"x":46.05,"y":12.84,"v":-7},
{"x":42.15,"y":13.08,"v":-6.4},{"x":42.45,"y":13.08,"v":-6.2},{"x":42.75,"y":13.08,"v":-6},{"x":43.05,"y":13.08,"v":-5.8},{"x":43.35,"y":13.08,"v":-5.3},{"x":43.65,"y":13.08,"v":-5},{"x":43.95,"y":13.08,"v":-4.6},{"x":44.25,"y":13.08,"v":-4.4},{"x":44.55,"y":13.08,"v":-4.5},{"x":44.85,"y":13.08,"v":-5.4},{"x":45.15,"y":13.08,"v":-6.4},{"x":45.45,"y":13.08,"v":-7},{"x":45.75,"y":13.08,"v":-7.1},{"x":46.05,"y":13.08,"v":-7.2},
{"x":42.15,"y":13.32,"v":-7},{"x":42.45,"y":13.32,"v":-6.8},{"x":42.75,"y":13.32,"v":-6.7},{"x":43.05,"y":13.32,"v":-6.7},{"x":43.35,"y":13.32,"v":-6.6},{"x":43.65,"y":13.32,"v":-6.3},{"x":43.95,"y":13.32,"v":-5.8},{"x":44.25,"y":13.32,"v":-5.2},{"x":44.55,"y":13.32,"v":-4.9},{"x":44.85,"y":13.32,"v":-5},{"x":45.15,"y":13.32,"v":-6.1},{"x":45.45,"y":13.32,"v":-7},
{"x":42.15,"y":13.56,"v":-7.1},{"x":42.45,"y":13.56,"v":-7.1},{"x":43.05,"y":13.56,"v":-7},{"x":43.35,"y":13.56,"v":-6.8},{"x":43.65,"y":13.56,"v":-6.9},{"x":43.95,"y":13.56,"v":-6.5},{"x":44.25,"y":13.56,"v":-6.1},{"x":44.55,"y":13.56,"v":-5.5},{"x":44.85,"y":13.56,"v":-5},{"x":45.15,"y":13.56,"v":-5.2},{"x":45.45,"y":13.56,"v":-7},
{"x":44.25,"y":13.8,"v":-7},{"x":44.55,"y":13.8,"v":-6.5},{"x":44.85,"y":13.8,"v":-5.7},{"x":45.15,"y":13.8,"v":-5.6},{"x":45.45,"y":13.8,"v":-7},
{"x":44.85,"y":14.04,"v":-7},{"x":45.15,"y":14.04,"v":-6.7},{"x":45.45,"y":14.04,"v":-6.7},{"x":45.75,"y":14.04,"v":-7}],
"f3":[{"x":42.15,"y":13.94,"v":-7.2},{"x":42.91,"y":13.83,"v":-7.2},{"x":42.16,"y":13.71,"v":-7.2},{"x":42.3,"y":13.71,"v":-7.2},{"x":42.76,"y":13.71,"v":-7.2},{"x":43.22,"y":13.71,"v":-7.2},{"x":43.37,"y":13.71,"v":-7.2},{"x":43.66,"y":13.71,"v":-7.2},{"x":44.11,"y":13.71,"v":-7.2},{"x":44.4,"y":13.71,"v":-7.2},{"x":44.57,"y":13.71,"v":-7.2},{"x":45.47,"y":14.2,"v":-7.2},{"x":45.91,"y":14.2,"v":-7.2},{"x":45.91,"y":14.07,"v":-7.2},{"x":45.32,"y":14.07,"v":-7.2},{"x":45.91,"y":13.71,"v":-7.2},{"x":46.37,"y":13.35,"v":-7},{"x":46.07,"y":13.1,"v":-7.2},{"x":46.37,"y":13.1,"v":-7},{"x":46.22,"y":12.85,"v":-7.2},{"x":46.82,"y":12.6,"v":-7.2},{"x":47.56,"y":12,"v":-7.2},{"x":47.27,"y":11.63,"v":-7.2},{"x":47.27,"y":11.87,"v":-7.2},{"x":47.13,"y":12.23,"v":-7.2},{"x":46.22,"y":11.03,"v":-7.2},{"x":46.69,"y":11.4,"v":-7.2},{"x":46.05,"y":11.26,"v":-7.2},{"x":45.84,"y":11.03,"v":-7.2},{"x":45.93,"y":11.03,"v":-7.2}],
"a3":[{"x":42,"y":11.66},{"x":42.22,"y":11.58},{"x":42.39,"y":11.42},{"x":42.56,"y":11.24},{"x":42.76,"y":11.16},{"x":43.2,"y":11.24},{"x":43.71,"y":11.37},{"x":44.23,"y":11.56},{"x":44.75,"y":11.7},{"x":45.26,"y":11.85},{"x":45.9,"y":11.97},{"x":46.47,"y":12.03},{"x":46.99,"y":12}],
"b3":[{"x":42,"y":11.91},{"x":42.53,"y":12.09},{"x":43.02,"y":12.33},{"x":43.51,"y":12.57},{"x":43.97,"y":12.8},{"x":44.46,"y":13.03},{"x":44.89,"y":13.37},{"x":45.26,"y":13.67},{"x":45.39,"y":13.77}],
"c4":[
{"x":42.15,"y":10.92,"v":-5.8},{"x":42.45,"y":10.92,"v":-4.6},{"x":42.75,"y":10.92,"v":-3.2},{"x":43.05,"y":10.92,"v":-2.6},{"x":43.35,"y":10.92,"v":-2.55},{"x":43.65,"y":10.92,"v":-3.5},{"x":43.95,"y":10.92,"v":-4.4},{"x":44.25,"y":10.92,"v":-5},{"x":44.55,"y":10.92,"v":-5.5},{"x":44.85,"y":10.92,"v":-6.2},{"x":45.15,"y":10.92,"v":-6.8},{"x":45.45,"y":10.92,"v":-7.2},
{"x":42.15,"y":11.16,"v":-5.8},{"x":42.45,"y":11.16,"v":-4.6},{"x":42.75,"y":11.16,"v":-3.5},{"x":43.05,"y":11.16,"v":-2.8},{"x":43.35,"y":11.16,"v":-2.6},{"x":43.65,"y":11.16,"v":-3},{"x":43.95,"y":11.16,"v":-3.3},{"x":44.25,"y":11.16,"v":-4},{"x":44.55,"y":11.16,"v":-4.5},{"x":44.85,"y":11.16,"v":-5.1},{"x":45.15,"y":11.16,"v":-5.6},{"x":45.45,"y":11.16,"v":-6},{"x":45.75,"y":11.16,"v":-6.9},
{"x":42.15,"y":11.4,"v":-4.2},{"x":42.45,"y":11.4,"v":-3.9},{"x":42.75,"y":11.4,"v":-4},{"x":43.05,"y":11.4,"v":-3.8},{"x":43.35,"y":11.4,"v":-3.2},{"x":43.65,"y":11.4,"v":-3},{"x":43.95,"y":11.4,"v":-2.9},{"x":44.25,"y":11.4,"v":-3.2},{"x":44.55,"y":11.4,"v":-3.7},{"x":44.85,"y":11.4,"v":-4.2},{"x":45.15,"y":11.4,"v":-4.7},{"x":45.45,"y":11.4,"v":-5.2},{"x":45.75,"y":11.4,"v":-5.8},{"x":46.05,"y":11.4,"v":-6.2},{"x":46.35,"y":11.4,"v":-6.7},{"x":46.65,"y":11.4,"v":-7},
{"x":42.15,"y":11.64,"v":-3.5},{"x":42.45,"y":11.64,"v":-3.6},{"x":42.75,"y":11.64,"v":-4.1},{"x":43.05,"y":11.64,"v":-4.3},{"x":43.35,"y":11.64,"v":-4.1},{"x":43.65,"y":11.64,"v":-3.7},{"x":43.95,"y":11.64,"v":-3.2},{"x":44.25,"y":11.64,"v":-3},{"x":44.55,"y":11.64,"v":-3.1},{"x":44.85,"y":11.64,"v":-3.6},{"x":45.15,"y":11.64,"v":-4},{"x":45.45,"y":11.64,"v":-4.6},{"x":45.75,"y":11.64,"v":-5.2},{"x":46.05,"y":11.64,"v":-5.7},{"x":46.35,"y":11.64,"v":-6.1},{"x":46.65,"y":11.64,"v":-6.5},{"x":46.95,"y":11.64,"v":-7},
{"x":42.15,"y":11.88,"v":-3.8},{"x":42.45,"y":11.88,"v":-3.9},{"x":42.75,"y":11.88,"v":-4},{"x":43.05,"y":11.88,"v":-4.4},{"x":43.35,"y":11.88,"v":-4.5},{"x":43.65,"y":11.88,"v":-4.4},{"x":43.95,"y":11.88,"v":-4},{"x":44.25,"y":11.88,"v":-3.8},{"x":44.55,"y":11.88,"v":-3.7},{"x":44.85,"y":11.88,"v":-3.9},{"x":45.15,"y":11.88,"v":-4.1},{"x":45.45,"y":11.88,"v":-4.4},{"x":45.75,"y":11.88,"v":-4.9},{"x":46.05,"y":11.88,"v":-5.5},{"x":46.35,"y":11.88,"v":-5.9},{"x":46.65,"y":11.88,"v":-6.3},{"x":46.95,"y":11.88,"v":-6.7},{"x":47.25,"y":11.88,"v":-7},
{"x":42.15,"y":12.12,"v":-3.9},{"x":42.45,"y":12.12,"v":-4},{"x":42.75,"y":12.12,"v":-3.95},{"x":43.05,"y":12.12,"v":-4.3},{"x":43.35,"y":12.12,"v":-4.9},{"x":43.65,"y":12.12,"v":-5},{"x":43.95,"y":12.12,"v":-4.9},{"x":44.25,"y":12.12,"v":-4.7},{"x":44.55,"y":12.12,"v":-4.5},{"x":44.85,"y":12.12,"v":-4.4},{"x":45.15,"y":12.12,"v":-4.5},{"x":45.45,"y":12.12,"v":-4.7},{"x":45.75,"y":12.12,"v":-5.2},{"x":46.05,"y":12.12,"v":-5.6},{"x":46.35,"y":12.12,"v":-6},{"x":46.65,"y":12.12,"v":-6.4},{"x":46.95,"y":12.12,"v":-6.8},{"x":47.25,"y":12.12,"v":-7},
{"x":42.15,"y":12.36,"v":-4.4},{"x":42.45,"y":12.36,"v":-4.1},{"x":42.75,"y":12.36,"v":-4.05},{"x":43.05,"y":12.36,"v":-4},{"x":43.35,"y":12.36,"v":-4.4},{"x":43.65,"y":12.36,"v":-4.6},{"x":43.95,"y":12.36,"v":-5.3},{"x":44.25,"y":12.36,"v":-5.4},{"x":44.55,"y":12.36,"v":-5.5},{"x":44.85,"y":12.36,"v":-5.5},{"x":45.15,"y":12.36,"v":-5.6},{"x":45.45,"y":12.36,"v":-5.7},{"x":45.75,"y":12.36,"v":-5.9},{"x":46.05,"y":12.36,"v":-6.1},{"x":46.35,"y":12.36,"v":-6.3},{"x":46.65,"y":12.36,"v":-6.8},{"x":46.95,"y":12.36,"v":-7},
{"x":42.15,"y":12.6,"v":-5.7},{"x":42.45,"y":12.6,"v":-5.2},{"x":42.75,"y":12.6,"v":-4.9},{"x":43.05,"y":12.6,"v":-4.7},{"x":43.35,"y":12.6,"v":-4.6},{"x":43.65,"y":12.6,"v":-4.4},{"x":43.95,"y":12.6,"v":-4.6},{"x":44.25,"y":12.6,"v":-5.9},{"x":44.55,"y":12.6,"v":-6.3},{"x":44.85,"y":12.6,"v":-6.4},{"x":45.15,"y":12.6,"v":-6.5},{"x":45.45,"y":12.6,"v":-6.6},{"x":45.75,"y":12.6,"v":-6.8},{"x":46.05,"y":12.6,"v":-6.9},{"x":46.35,"y":12.6,"v":-7},
{"x":42.15,"y":12.84,"v":-7},{"x":42.45,"y":12.84,"v":-7.1},{"x":42.75,"y":12.84,"v":-6.1},{"x":43.05,"y":12.84,"v":-5.8},{"x":43.35,"y":12.84,"v":-5.4},{"x":43.65,"y":12.84,"v":-5},{"x":43.95,"y":12.84,"v":-4.8},{"x":44.25,"y":12.84,"v":-5.2},{"x":44.55,"y":12.84,"v":-6.7},{"x":44.85,"y":12.84,"v":-7},{"x":45.15,"y":12.84,"v":-7},{"x":45.75,"y":12.84,"v":-7.1},{"x":46.05,"y":12.84,"v":-7.1},
{"x":43.05,"y":13.08,"v":-6.9},{"x":43.35,"y":13.08,"v":-6.6},{"x":43.65,"y":13.08,"v":-6.3},{"x":43.95,"y":13.08,"v":-5.8},{"x":44.25,"y":13.08,"v":-5.3},{"x":44.55,"y":13.08,"v":-5.4},{"x":44.85,"y":13.08,"v":-6.5},{"x":45.15,"y":13.08,"v":-7.1},
{"x":43.95,"y":13.32,"v":-7.1},{"x":44.25,"y":13.32,"v":-6.8},{"x":44.55,"y":13.32,"v":-6.1},{"x":44.85,"y":13.32,"v":-5.9},{"x":45.15,"y":13.32,"v":-7},
{"x":44.85,"y":13.56,"v":-7},{"x":45.15,"y":13.56,"v":-7.1}],
"f4":[{"x":42.32,"y":13.35,"v":-7.2},{"x":42.47,"y":13.22,"v":-7.2},{"x":42.84,"y":13.09,"v":-7.2},{"x":42.92,"y":13.09,"v":-7.2},{"x":43.52,"y":13.33,"v":-7.2},{"x":43.52,"y":13.21,"v":-7.2},{"x":43.83,"y":13.22,"v":-7.2},{"x":45.48,"y":12.98,"v":-7},{"x":45.16,"y":13.71,"v":-7.2},{"x":45.02,"y":13.59,"v":-7.2},{"x":47.43,"y":11.87,"v":-7.2},{"x":46.37,"y":11.26,"v":-7.2},{"x":46.08,"y":10.9,"v":-7},{"x":45.76,"y":10.81,"v":-7.2},{"x":46.54,"y":11.26,"v":-7.2},{"x":46.83,"y":12.36,"v":-7}],
"a4":[{"x":42,"y":11.37},{"x":42.1,"y":11.16},{"x":42.23,"y":10.98},{"x":42.46,"y":10.93},{"x":42.72,"y":10.96},{"x":43.21,"y":11.08},{"x":43.9,"y":11.31},{"x":44.41,"y":11.49},{"x":44.87,"y":11.63},{"x":45.39,"y":11.77},{"x":45.85,"y":11.86},{"x":46.37,"y":11.87},{"x":46.83,"y":11.87},{"x":46.89,"y":11.9}],
"b4":[{"x":42,"y":11.7},{"x":42.4,"y":11.76},{"x":42.66,"y":11.95},{"x":42.89,"y":12.09},{"x":43.38,"y":12.26},{"x":44.01,"y":12.52},{"x":44.47,"y":12.8},{"x":44.93,"y":13.08},{"x":45.19,"y":13.26}],
"c5":[
{"x":42.15,"y":10.92,"v":-6.5},{"x":42.45,"y":10.92,"v":-5.5},{"x":42.75,"y":10.92,"v":-4},{"x":43.05,"y":10.92,"v":-3},{"x":43.35,"y":10.92,"v":-2.5},{"x":43.65,"y":10.92,"v":-2.8},{"x":43.95,"y":10.92,"v":-3.6},{"x":44.25,"y":10.92,"v":-4.8},{"x":44.55,"y":10.92,"v":-5.4},{"x":44.85,"y":10.92,"v":-6},{"x":45.15,"y":10.92,"v":-6.5},{"x":45.45,"y":10.92,"v":-7.2},
{"x":42.15,"y":11.16,"v":-5.9},{"x":42.45,"y":11.16,"v":-5.5},{"x":42.75,"y":11.16,"v":-4},{"x":43.05,"y":11.16,"v":-3.3},{"x":43.35,"y":11.16,"v":-2.7},{"x":43.65,"y":11.16,"v":-2.8},{"x":43.95,"y":11.16,"v":-3.1},{"x":44.25,"y":11.16,"v":-3.9},{"x":44.55,"y":11.16,"v":-4.7},{"x":44.85,"y":11.16,"v":-5.2},{"x":45.15,"y":11.16,"v":-5.8},{"x":45.45,"y":11.16,"v":-6.2},{"x":45.75,"y":11.16,"v":-6.5},{"x":46.05,"y":11.16,"v":-6.9},{"x":46.35,"y":11.16,"v":-7},
{"x":42.15,"y":11.4,"v":-4.5},{"x":42.45,"y":11.4,"v":-4.5},{"x":42.75,"y":11.4,"v":-4.7},{"x":43.05,"y":11.4,"v":-4.6},{"x":43.35,"y":11.4,"v":-3.8},{"x":43.65,"y":11.4,"v":-3.2},{"x":43.95,"y":11.4,"v":-3},{"x":44.25,"y":11.4,"v":-3.1},{"x":44.55,"y":11.4,"v":-3.8},{"x":44.85,"y":11.4,"v":-4.3},{"x":45.15,"y":11.4,"v":-4.7},{"x":45.45,"y":11.4,"v":-5.3},{"x":45.75,"y":11.4,"v":-5.6},{"x":46.05,"y":11.4,"v":-6.2},{"x":46.35,"y":11.4,"v":-6.7},{"x":46.65,"y":11.4,"v":-7},
{"x":42.15,"y":11.64,"v":-3.9},{"x":42.45,"y":11.64,"v":-4.1},{"x":42.75,"y":11.64,"v":-4.6},{"x":43.05,"y":11.64,"v":-5},{"x":43.35,"y":11.64,"v":-4.7},{"x":43.65,"y":11.64,"v":-4.3},{"x":43.95,"y":11.64,"v":-3.8},{"x":44.25,"y":11.64,"v":-3.4},{"x":44.55,"y":11.64,"v":-3.2},{"x":44.85,"y":11.64,"v":-3.6},{"x":45.15,"y":11.64,"v":-4},{"x":45.45,"y":11.64,"v":-4.5},{"x":45.75,"y":11.64,"v":-5.1},{"x":46.05,"y":11.64,"v":-5.7},{"x":46.35,"y":11.64,"v":-6},{"x":46.65,"y":11.64,"v":-6.7},{"x":46.95,"y":11.64,"v":-7},{"x":47.25,"y":11.64,"v":-7},
{"x":42.15,"y":11.88,"v":-4.3},{"x":42.45,"y":11.88,"v":-4.4},{"x":42.75,"y":11.88,"v":-4.6},{"x":43.05,"y":11.88,"v":-4.9},{"x":43.35,"y":11.88,"v":-5.2},{"x":43.65,"y":11.88,"v":-5.3},{"x":43.95,"y":11.88,"v":-4.9},{"x":44.25,"y":11.88,"v":-4.5},{"x":44.55,"y":11.88,"v":-3.9},{"x":44.85,"y":11.88,"v":-4},{"x":45.15,"y":11.88,"v":-4.1},{"x":45.45,"y":11.88,"v":-4.5},{"x":45.75,"y":11.88,"v":-5},{"x":46.05,"y":11.88,"v":-5.5},{"x":46.35,"y":11.88,"v":-5.9},{"x":46.65,"y":11.88,"v":-6.3},{"x":46.95,"y":11.88,"v":-6.9},{"x":47.25,"y":11.88,"v":-7.1},
{"x":42.15,"y":12.12,"v":-4.4},{"x":42.45,"y":12.12,"v":-4.3},{"x":42.75,"y":12.12,"v":-4.5},{"x":43.05,"y":12.12,"v":-4.6},{"x":43.35,"y":12.12,"v":-4.9},{"x":43.65,"y":12.12,"v":-5.8},{"x":43.95,"y":12.12,"v":-5.8},{"x":44.25,"y":12.12,"v":-5.4},{"x":44.55,"y":12.12,"v":-5.1},{"x":44.85,"y":12.12,"v":-5.1},{"x":45.15,"y":12.12,"v":-5},{"x":45.45,"y":12.12,"v":-5.2},{"x":45.75,"y":12.12,"v":-5.4},{"x":46.05,"y":12.12,"v":-5.7},{"x":46.35,"y":12.12,"v":-6.1},{"x":46.65,"y":12.12,"v":-6.5},{"x":46.95,"y":12.12,"v":-7},
{"x":42.15,"y":12.36,"v":-4.9},{"x":42.45,"y":12.36,"v":-4.7},{"x":42.75,"y":12.36,"v":-4.6},{"x":43.05,"y":12.36,"v":-4.6},{"x":43.35,"y":12.36,"v":-4.6},{"x":43.65,"y":12.36,"v":-4.9},{"x":43.95,"y":12.36,"v":-6.1},{"x":44.25,"y":12.36,"v":-6.2},{"x":44.55,"y":12.36,"v":-6.2},{"x":44.85,"y":12.36,"v":-6.1},{"x":45.15,"y":12.36,"v":-5.8},{"x":45.45,"y":12.36,"v":-5.9},{"x":45.75,"y":12.36,"v":-6},{"x":46.05,"y":12.36,"v":-6.3},{"x":46.35,"y":12.36,"v":-6.5},{"x":46.65,"y":12.36,"v":-6.9},{"x":46.95,"y":12.36,"v":-7},
{"x":42.15,"y":12.6,"v":-5.9},{"x":42.45,"y":12.6,"v":-5.5},{"x":42.75,"y":12.6,"v":-5.2},{"x":43.05,"y":12.6,"v":-5.1},{"x":43.35,"y":12.6,"v":-5.1},{"x":43.65,"y":12.6,"v":-4.9},{"x":43.95,"y":12.6,"v":-4.7},{"x":44.25,"y":12.6,"v":-5.5},{"x":44.55,"y":12.6,"v":-6.9},{"x":44.85,"y":12.6,"v":-6.8},{"x":45.15,"y":12.6,"v":-6.5},{"x":45.45,"y":12.6,"v":-6.7},{"x":45.75,"y":12.6,"v":-7},{"x":46.05,"y":12.6,"v":-7},{"x":46.35,"y":12.6,"v":-7.1},
{"x":42.45,"y":12.84,"v":-7.1},{"x":42.75,"y":12.84,"v":-6.9},{"x":43.05,"y":12.84,"v":-6.8},{"x":43.35,"y":12.84,"v":-6.2},{"x":43.65,"y":12.84,"v":-5.9},{"x":43.95,"y":12.84,"v":-5.8},{"x":44.25,"y":12.84,"v":-5.4},{"x":44.55,"y":12.84,"v":-5.6},{"x":44.85,"y":12.84,"v":-6.8},{"x":45.15,"y":12.84,"v":-7.1},
{"x":43.95,"y":13.08,"v":-7.1},{"x":44.25,"y":13.08,"v":-6.5},{"x":44.55,"y":13.08,"v":-6},{"x":44.85,"y":13.08,"v":-6.7},
{"x":44.85,"y":13.32,"v":-7.1},{"x":45.15,"y":13.32,"v":-7.1}],
"f5":[{"x":45.32,"y":13.35,"v":-7.2},{"x":45.32,"y":13.22,"v":-6.9},{"x":42.3,"y":12.98,"v":-7.2},{"x":42.3,"y":12.85,"v":-7.2},{"x":45.32,"y":12.85,"v":-7.2},{"x":46.08,"y":12.72,"v":-7.2},{"x":46.22,"y":12.6,"v":-7.2},{"x":46.37,"y":12.49,"v":-7.2},{"x":47.29,"y":11.87,"v":-7.2},{"x":46.68,"y":11.15,"v":-7.1},{"x":46.22,"y":11.15,"v":-7.1},{"x":46.08,"y":10.82,"v":-7.2},{"x":46.68,"y":12.36,"v":-7.1},{"x":46.51,"y":12.36,"v":-7.1},{"x":47.01,"y":11.51,"v":-7.1},{"x":47.15,"y":11.51,"v":-7.2}],
"a5":[{"x":42.03,"y":11.14},{"x":42.11,"y":10.96},{"x":42.26,"y":10.84},{"x":42.52,"y":10.86},{"x":43.01,"y":10.94},{"x":43.47,"y":11.08},{"x":43.98,"y":11.28},{"x":44.39,"y":11.4},{"x":44.9,"y":11.57},{"x":45.36,"y":11.72},{"x":45.94,"y":11.77},{"x":46.4,"y":11.82},{"x":46.8,"y":11.88},{"x":46.91,"y":11.85}],
"b5":[{"x":42,"y":11.67},{"x":42.43,"y":11.73},{"x":42.72,"y":11.88},{"x":43.03,"y":12.03},{"x":43.58,"y":12.2},{"x":44.04,"y":12.43},{"x":44.56,"y":12.69},{"x":44.84,"y":12.94},{"x":44.99,"y":12.96}],
"c6":[
{"x":42.15,"y":10.92,"v":-7},{"x":42.45,"y":10.92,"v":-5.5},{"x":42.75,"y":10.92,"v":-3.8},{"x":43.05,"y":10.92,"v":-2.8},{"x":43.35,"y":10.92,"v":-2.55},{"x":43.65,"y":10.92,"v":-3.1},{"x":43.95,"y":10.92,"v":-3.9},{"x":44.25,"y":10.92,"v":-4.7},{"x":44.55,"y":10.92,"v":-5.6},{"x":44.85,"y":10.92,"v":-6.2},{"x":45.15,"y":10.92,"v":-7},{"x":45.45,"y":10.92,"v":-7.2},
{"x":42.15,"y":11.16,"v":-5.8},{"x":42.45,"y":11.16,"v":-5.6},{"x":42.75,"y":11.16,"v":-4.7},{"x":43.05,"y":11.16,"v":-3.4},{"x":43.35,"y":11.16,"v":-3.1},{"x":43.65,"y":11.16,"v":-3.2},{"x":43.95,"y":11.16,"v":-3.4},{"x":44.25,"y":11.16,"v":-3.9},{"x":44.55,"y":11.16,"v":-4.5},{"x":44.85,"y":11.16,"v":-5},{"x":45.15,"y":11.16,"v":-5.5},{"x":45.45,"y":11.16,"v":-5.9},{"x":45.75,"y":11.16,"v":-6.3},{"x":46.05,"y":11.16,"v":-6.8},{"x":46.35,"y":11.16,"v":-6.9},{"x":46.65,"y":11.16,"v":-7},
{"x":42.15,"y":11.4,"v":-4.8},{"x":42.45,"y":11.4,"v":-4.8},{"x":42.75,"y":11.4,"v":-5.2},{"x":43.05,"y":11.4,"v":-5.2},{"x":43.35,"y":11.4,"v":-4.6},{"x":43.65,"y":11.4,"v":-3.9},{"x":43.95,"y":11.4,"v":-3.5},{"x":44.25,"y":11.4,"v":-3.3},{"x":44.55,"y":11.4,"v":-3.4},{"x":44.85,"y":11.4,"v":-4},{"x":45.15,"y":11.4,"v":-4.4},{"x":45.45,"y":11.4,"v":-4.9},{"x":45.75,"y":11.4,"v":-5.4},{"x":46.05,"y":11.4,"v":-6},{"x":46.35,"y":11.4,"v":-6.4},{"x":46.65,"y":11.4,"v":-7},
{"x":42.15,"y":11.64,"v":-4.7},{"x":42.45,"y":11.64,"v":-4.6},{"x":42.75,"y":11.64,"v":-4.7},{"x":43.05,"y":11.64,"v":-5},{"x":43.35,"y":11.64,"v":-5.4},{"x":43.65,"y":11.64,"v":-5.4},{"x":43.95,"y":11.64,"v":-5},{"x":44.25,"y":11.64,"v":-4.4},{"x":44.55,"y":11.64,"v":-3.9},{"x":44.85,"y":11.64,"v":-3.9},{"x":45.15,"y":11.64,"v":-4},{"x":45.45,"y":11.64,"v":-4.6},{"x":45.75,"y":11.64,"v":-5.1},{"x":46.05,"y":11.64,"v":-5.6},{"x":46.35,"y":11.64,"v":-6},{"x":46.65,"y":11.64,"v":-6.5},{"x":46.95,"y":11.64,"v":-6.9},
{"x":42.15,"y":11.88,"v":-4.4},{"x":42.45,"y":11.88,"v":-4.3},{"x":42.75,"y":11.88,"v":-4.6},{"x":43.05,"y":11.88,"v":-5},{"x":43.35,"y":11.88,"v":-5.3},{"x":43.65,"y":11.88,"v":-5.8},{"x":43.95,"y":11.88,"v":-6.2},{"x":44.25,"y":11.88,"v":-5.8},{"x":44.55,"y":11.88,"v":-5.5},{"x":44.85,"y":11.88,"v":-5},{"x":45.15,"y":11.88,"v":-4.8},{"x":45.45,"y":11.88,"v":-4.7},{"x":45.75,"y":11.88,"v":-5},{"x":46.05,"y":11.88,"v":-5.5},{"x":46.35,"y":11.88,"v":-5.9},{"x":46.65,"y":11.88,"v":-6.3},{"x":46.95,"y":11.88,"v":-6.9},{"x":47.25,"y":11.88,"v":-7.2},
{"x":42.15,"y":12.12,"v":-4.7},{"x":42.45,"y":12.12,"v":-4.6},{"x":42.75,"y":12.12,"v":-4.7},{"x":43.05,"y":12.12,"v":-4.9},{"x":43.35,"y":12.12,"v":-5.1},{"x":43.65,"y":12.12,"v":-5.6},{"x":43.95,"y":12.12,"v":-6.6},{"x":44.25,"y":12.12,"v":-6.8},{"x":44.55,"y":12.12,"v":-6.3},{"x":44.85,"y":12.12,"v":-6.2},{"x":45.15,"y":12.12,"v":-6.2},{"x":45.45,"y":12.12,"v":-6.2},{"x":45.75,"y":12.12,"v":-6.3},{"x":46.05,"y":12.12,"v":-6.5},{"x":46.35,"y":12.12,"v":-6.9},{"x":46.65,"y":12.12,"v":-7},
{"x":42.15,"y":12.36,"v":-6.4},{"x":42.45,"y":12.36,"v":-5.9},{"x":42.75,"y":12.36,"v":-5.5},{"x":43.05,"y":12.36,"v":-5.3},{"x":43.35,"y":12.36,"v":-5.4},{"x":43.65,"y":12.36,"v":-5.2},{"x":43.95,"y":12.36,"v":-5.2},{"x":44.25,"y":12.36,"v":-6},{"x":44.55,"y":12.36,"v":-7},{"x":44.85,"y":12.36,"v":-6.9},{"x":45.15,"y":12.36,"v":-7},
{"x":42.75,"y":12.6,"v":-7.1},{"x":43.05,"y":12.6,"v":-6.8},{"x":43.35,"y":12.6,"v":-6.6},{"x":43.65,"y":12.6,"v":-6.3},{"x":43.95,"y":12.6,"v":-5.9},{"x":44.25,"y":12.6,"v":-5.7},{"x":44.55,"y":12.6,"v":-6},{"x":44.85,"y":12.6,"v":-7},
{"x":44.25,"y":12.84,"v":-7},{"x":44.55,"y":12.84,"v":-6.4},{"x":44.85,"y":12.84,"v":-6.6}],
"f6":[{"x":45.02,"y":13.11,"v":-7},{"x":45.02,"y":13,"v":-7},{"x":45.61,"y":12.86,"v":-7.2},{"x":45.78,"y":12.62,"v":-7},{"x":45.02,"y":12.5,"v":-7.2},{"x":45.61,"y":12.5,"v":-7.2},{"x":42.61,"y":12.5,"v":-7.2},{"x":44.11,"y":12.86,"v":-7.2},{"x":44.86,"y":12.37,"v":-7.2},{"x":45.18,"y":12.37,"v":-7.2},{"x":45.47,"y":12.37,"v":-7},{"x":46.37,"y":12.37,"v":-7},{"x":46.68,"y":12.37,"v":-7.2},{"x":45.78,"y":12.37,"v":-7},{"x":46.07,"y":12.37,"v":-7.2},{"x":46.23,"y":12.24,"v":-7.2},{"x":47.28,"y":12,"v":-7},{"x":47.13,"y":11.88,"v":-7.2},{"x":47.13,"y":11.75,"v":-7.2},{"x":47.13,"y":11.51,"v":-7.1},{"x":46.83,"y":11.51,"v":-7},{"x":46.39,"y":11.04,"v":-7.1},{"x":45.47,"y":10.9,"v":-7.2},{"x":46.82,"y":11.27,"v":-7.2},{"x":46.96,"y":11.27,"v":-7.2},{"x":46.82,"y":11.15,"v":-7.2},{"x":46.67,"y":11.15,"v":-7.2}],
"a6":[{"x":42.45,"y":10.82},{"x":42.68,"y":10.83},{"x":43.02,"y":10.88},{"x":43.66,"y":11.09},{"x":44.34,"y":11.36},{"x":44.86,"y":11.52},{"x":45.55,"y":11.68},{"x":46.07,"y":11.73},{"x":46.59,"y":11.77}],
"b6":[{"x":42,"y":11.69},{"x":42.42,"y":11.73},{"x":42.74,"y":11.82},{"x":43.08,"y":11.97},{"x":43.43,"y":12.07},{"x":43.86,"y":12.23},{"x":44.11,"y":12.35},{"x":44.55,"y":12.62},{"x":44.78,"y":12.72}],
"c7":[
{"x":42.45,"y":10.92,"v":-5.8},{"x":42.75,"y":10.92,"v":-4.2},{"x":43.05,"y":10.92,"v":-3.3},{"x":43.35,"y":10.92,"v":-2.6},{"x":43.65,"y":10.92,"v":-3},{"x":43.95,"y":10.92,"v":-3.8},{"x":44.25,"y":10.92,"v":-4.6},{"x":44.55,"y":10.92,"v":-5.4},{"x":44.85,"y":10.92,"v":-5.9},{"x":45.15,"y":10.92,"v":-6.5},{"x":45.45,"y":10.92,"v":-7.1},
{"x":42.15,"y":11.16,"v":-6.6},{"x":42.45,"y":11.16,"v":-5.8},{"x":42.75,"y":11.16,"v":-4.7},{"x":43.05,"y":11.16,"v":-3.5},{"x":43.35,"y":11.16,"v":-3},{"x":43.65,"y":11.16,"v":-2.9},{"x":43.95,"y":11.16,"v":-3.3},{"x":44.25,"y":11.16,"v":-3.9},{"x":44.55,"y":11.16,"v":-4.7},{"x":44.85,"y":11.16,"v":-5.3},{"x":45.15,"y":11.16,"v":-5.8},{"x":45.45,"y":11.16,"v":-6.5},{"x":45.75,"y":11.16,"v":-7},{"x":46.05,"y":11.16,"v":-7.1},
{"x":42.15,"y":11.4,"v":-5.2},{"x":42.45,"y":11.4,"v":-5.1},{"x":42.75,"y":11.4,"v":-5.3},{"x":43.05,"y":11.4,"v":-4.8},{"x":43.35,"y":11.4,"v":-4.1},{"x":43.65,"y":11.4,"v":-3.4},{"x":43.95,"y":11.4,"v":-3.2},{"x":44.25,"y":11.4,"v":-3.4},{"x":44.55,"y":11.4,"v":-3.9},{"x":44.85,"y":11.4,"v":-4.5},{"x":45.15,"y":11.4,"v":-5},{"x":45.45,"y":11.4,"v":-5.5},{"x":45.75,"y":11.4,"v":-5.9},{"x":46.05,"y":11.4,"v":-6.5},{"x":46.35,"y":11.4,"v":-7},
{"x":42.15,"y":11.64,"v":-5},{"x":42.45,"y":11.64,"v":-4.9},{"x":42.75,"y":11.64,"v":-5},{"x":43.05,"y":11.64,"v":-5.3},{"x":43.35,"y":11.64,"v":-5.8},{"x":43.65,"y":11.64,"v":-5.4},{"x":43.95,"y":11.64,"v":-5},{"x":44.25,"y":11.64,"v":-4.6},{"x":44.55,"y":11.64,"v":-4.1},{"x":44.85,"y":11.64,"v":-3.9},{"x":45.15,"y":11.64,"v":-4.2},{"x":45.45,"y":11.64,"v":-4.6},{"x":45.75,"y":11.64,"v":-5.2},{"x":46.05,"y":11.64,"v":-5.7},{"x":46.35,"y":11.64,"v":-6.1},{"x":46.65,"y":11.64,"v":-6.6},{"x":46.95,"y":11.64,"v":-7},{"x":47.25,"y":11.64,"v":-7},
{"x":42.15,"y":11.88,"v":-4.6},{"x":42.45,"y":11.88,"v":-4.5},{"x":42.75,"y":11.88,"v":-4.7},{"x":43.05,"y":11.88,"v":-5},{"x":43.35,"y":11.88,"v":-5.5},{"x":43.65,"y":11.88,"v":-6},{"x":43.95,"y":11.88,"v":-6.8},{"x":44.25,"y":11.88,"v":-6.2},{"x":44.55,"y":11.88,"v":-5.5},{"x":44.85,"y":11.88,"v":-5.2},{"x":45.15,"y":11.88,"v":-5},{"x":45.45,"y":11.88,"v":-5.1},{"x":45.75,"y":11.88,"v":-5.6},{"x":46.05,"y":11.88,"v":-6},{"x":46.35,"y":11.88,"v":-6.3},{"x":46.65,"y":11.88,"v":-6.9},{"x":46.95,"y":11.88,"v":-7},
{"x":42.15,"y":12.12,"v":-5.3},{"x":42.45,"y":12.12,"v":-5},{"x":42.75,"y":12.12,"v":-5},{"x":43.05,"y":12.12,"v":-5.1},{"x":43.35,"y":12.12,"v":-5.3},{"x":43.65,"y":12.12,"v":-5.8},{"x":43.95,"y":12.12,"v":-6.6},{"x":44.25,"y":12.12,"v":-7},{"x":44.55,"y":12.12,"v":-6.7},{"x":44.85,"y":12.12,"v":-6.3},{"x":45.15,"y":12.12,"v":-6.3},{"x":45.45,"y":12.12,"v":-6.3},{"x":45.75,"y":12.12,"v":-6.5},{"x":46.05,"y":12.12,"v":-6.8},{"x":46.35,"y":12.12,"v":-7},
{"x":42.15,"y":12.36,"v":-6.3},{"x":42.45,"y":12.36,"v":-6},{"x":42.75,"y":12.36,"v":-5.8},{"x":43.05,"y":12.36,"v":-5.8},{"x":43.35,"y":12.36,"v":-5.6},{"x":43.65,"y":12.36,"v":-5.5},{"x":43.95,"y":12.36,"v":-5.6},{"x":44.25,"y":12.36,"v":-6.2},{"x":44.55,"y":12.36,"v":-7.1},
{"x":42.45,"y":12.6,"v":-7.2},{"x":43.05,"y":12.6,"v":-7.1},{"x":43.35,"y":12.6,"v":-6.6},{"x":43.65,"y":12.6,"v":-6.4},{"x":43.95,"y":12.6,"v":-6},{"x":44.25,"y":12.6,"v":-5.9},{"x":44.55,"y":12.6,"v":-6.3},
{"x":43.95,"y":12.84,"v":-7.1},{"x":44.25,"y":12.84,"v":-6.8},{"x":44.55,"y":12.84,"v":-6.7}],
"f7":[{"x":45.16,"y":13,"v":-7},{"x":45.02,"y":12.86,"v":-7.1},{"x":42.76,"y":12.5,"v":-7.1},{"x":43.05,"y":12.5,"v":-7.2},{"x":43.37,"y":12.62,"v":-7},{"x":45.02,"y":12.37,"v":-7.1},{"x":45.16,"y":12.37,"v":-7},{"x":45.46,"y":12.37,"v":-7},{"x":45.62,"y":12.37,"v":-7.2},{"x":46.37,"y":12.37,"v":-7},{"x":44.7,"y":12.24,"v":-7.2},{"x":45.02,"y":12.24,"v":-7},{"x":45.16,"y":12.24,"v":-7.2},{"x":45.46,"y":12.24,"v":-7},{"x":45.94,"y":12.24,"v":-7},{"x":46.6,"y":12.24,"v":-7.2},{"x":46.83,"y":12.12,"v":-7.2},{"x":47.28,"y":12,"v":-7.2},{"x":47.28,"y":11.75,"v":-7.2},{"x":46.97,"y":11.75,"v":-7},{"x":47.14,"y":11.64,"v":-7.2},{"x":46.08,"y":11.04,"v":-7.2},{"x":46.68,"y":10.9,"v":-7.2},{"x":45.68,"y":10.9,"v":-7}],
"a7":[{"x":42.63,"y":10.82},{"x":42.86,"y":10.83},{"x":43.38,"y":10.95},{"x":43.84,"y":11.13},{"x":44.53,"y":11.36},{"x":44.99,"y":11.52},{"x":45.51,"y":11.65},{"x":46.25,"y":11.73},{"x":46.6,"y":11.74},{"x":46.77,"y":11.68}],
"b7":[{"x":42,"y":11.68},{"x":42.57,"y":11.77},{"x":42.98,"y":11.89},{"x":43.26,"y":11.99},{"x":43.61,"y":12.11},{"x":44.01,"y":12.29},{"x":44.24,"y":12.4},{"x":44.47,"y":12.49},{"x":44.6,"y":12.57}],
"c8":[
{"x":42.15,"y":10.92,"v":-7},{"x":42.45,"y":10.92,"v":-6.2},{"x":42.75,"y":10.92,"v":-4.4},{"x":43.05,"y":10.92,"v":-3.6},{"x":43.35,"y":10.92,"v":-2.9},{"x":43.65,"y":10.92,"v":-3.4},{"x":43.95,"y":10.92,"v":-4.2},{"x":44.25,"y":10.92,"v":-5},{"x":44.55,"y":10.92,"v":-5.6},{"x":44.85,"y":10.92,"v":-6},{"x":45.15,"y":10.92,"v":-7},
{"x":42.15,"y":11.16,"v":-7},{"x":42.45,"y":11.16,"v":-6.4},{"x":42.75,"y":11.16,"v":-4.8},{"x":43.05,"y":11.16,"v":-3.9},{"x":43.35,"y":11.16,"v":-3.4},{"x":43.65,"y":11.16,"v":-3.1},{"x":43.95,"y":11.16,"v":-3.5},{"x":44.25,"y":11.16,"v":-4.2},{"x":44.55,"y":11.16,"v":-4.8},{"x":44.85,"y":11.16,"v":-5.3},{"x":45.15,"y":11.16,"v":-5.9},{"x":45.45,"y":11.16,"v":-6.4},{"x":45.75,"y":11.16,"v":-6.9},{"x":46.05,"y":11.16,"v":-7},
{"x":42.15,"y":11.4,"v":-6.2},{"x":42.45,"y":11.4,"v":-5.8},{"x":42.75,"y":11.4,"v":-5.5},{"x":43.05,"y":11.4,"v":-4.9},{"x":43.35,"y":11.4,"v":-4.2},{"x":43.65,"y":11.4,"v":-3.6},{"x":43.95,"y":11.4,"v":-3.3},{"x":44.25,"y":11.4,"v":-3.7},{"x":44.55,"y":11.4,"v":-4.4},{"x":44.85,"y":11.4,"v":-5},{"x":45.15,"y":11.4,"v":-5.6},{"x":45.45,"y":11.4,"v":-6},{"x":45.75,"y":11.4,"v":-6.5},{"x":46.05,"y":11.4,"v":-6.9},{"x":46.35,"y":11.4,"v":-7},
{"x":42.15,"y":11.64,"v":-5.3},{"x":42.45,"y":11.64,"v":-5.2},{"x":42.75,"y":11.64,"v":-5.4},{"x":43.05,"y":11.64,"v":-5.8},{"x":43.35,"y":11.64,"v":-5.4},{"x":43.65,"y":11.64,"v":-5},{"x":43.95,"y":11.64,"v":-4.5},{"x":44.25,"y":11.64,"v":-3.9},{"x":44.55,"y":11.64,"v":-3.8},{"x":44.85,"y":11.64,"v":-4.2},{"x":45.15,"y":11.64,"v":-4.7},{"x":45.45,"y":11.64,"v":-5.3},{"x":45.75,"y":11.64,"v":-5.8},{"x":46.05,"y":11.64,"v":-6.1},{"x":46.35,"y":11.64,"v":-6.6},{"x":46.65,"y":11.64,"v":-7},
{"x":42.15,"y":11.88,"v":-5},{"x":42.45,"y":11.88,"v":-4.9},{"x":42.75,"y":11.88,"v":-5.3},{"x":43.05,"y":11.88,"v":-5.6},{"x":43.35,"y":11.88,"v":-6},{"x":43.65,"y":11.88,"v":-6.4},{"x":43.95,"y":11.88,"v":-5.8},{"x":44.25,"y":11.88,"v":-5.2},{"x":44.55,"y":11.88,"v":-5},{"x":44.85,"y":11.88,"v":-4.8},{"x":45.15,"y":11.88,"v":-4.9},{"x":45.45,"y":11.88,"v":-5.3},{"x":45.75,"y":11.88,"v":-5.7},{"x":46.05,"y":11.88,"v":-6.1},{"x":46.35,"y":11.88,"v":-6.5},{"x":46.65,"y":11.88,"v":-6.9},{"x":46.95,"y":11.88,"v":-7},
{"x":42.15,"y":12.12,"v":-4.9},{"x":42.45,"y":12.12,"v":-4.9},{"x":42.75,"y":12.12,"v":-5},{"x":43.05,"y":12.12,"v":-5.2},{"x":43.35,"y":12.12,"v":-5.6},{"x":43.65,"y":12.12,"v":-6},{"x":43.95,"y":12.12,"v":-6.6},{"x":44.25,"y":12.12,"v":-7},{"x":44.55,"y":12.12,"v":-6.6},{"x":44.85,"y":12.12,"v":-6.2},{"x":45.15,"y":12.12,"v":-6.2},{"x":45.45,"y":12.12,"v":-6.2},{"x":45.75,"y":12.12,"v":-6.4},{"x":46.05,"y":12.12,"v":-6.7},{"x":46.35,"y":12.12,"v":-7},
{"x":42.15,"y":12.36,"v":-6.4},{"x":42.45,"y":12.36,"v":-5.9},{"x":42.75,"y":12.36,"v":-5.7},{"x":43.05,"y":12.36,"v":-5.5},{"x":43.35,"y":12.36,"v":-5.5},{"x":43.65,"y":12.36,"v":-5.5},{"x":43.95,"y":12.36,"v":-5.9},{"x":44.25,"y":12.36,"v":-6.5},{"x":44.55,"y":12.36,"v":-7},{"x":44.85,"y":12.36,"v":-7.1},{"x":45.15,"y":12.36,"v":-7},{"x":45.45,"y":12.36,"v":-7},{"x":45.75,"y":12.36,"v":-6.8},
{"x":42.75,"y":12.6,"v":-7.2},{"x":43.35,"y":12.6,"v":-7.1},{"x":43.65,"y":12.6,"v":-6.8},{"x":43.95,"y":12.6,"v":-6.3},{"x":44.25,"y":12.6,"v":-6.1},{"x":44.55,"y":12.6,"v":-6.3},
{"x":44.25,"y":12.84,"v":-7.1}],
"f8":[{"x":44.57,"y":12.86,"v":-7.2},{"x":45.17,"y":12.74,"v":-7},{"x":43.67,"y":12.62,"v":-7.2},{"x":44.27,"y":12.62,"v":-7},{"x":44.41,"y":12.62,"v":-7},{"x":44.73,"y":12.62,"v":-7.2},{"x":44.87,"y":12.62,"v":-7.2},{"x":42.3,"y":12.37,"v":-7.2},{"x":42.9,"y":12.37,"v":-7.2},{"x":43.35,"y":12.5,"v":-7.2},{"x":46.08,"y":12.37,"v":-7.2},{"x":46.54,"y":12.24,"v":-7.2},{"x":45.93,"y":12.24,"v":-7},{"x":46.37,"y":12.12,"v":-7.1},{"x":46.83,"y":12,"v":-7.2},{"x":47.13,"y":11.88,"v":-7.2},{"x":46.83,"y":11.88,"v":-7.2},{"x":46.97,"y":11.75,"v":-7.2},{"x":46.97,"y":11.38,"v":-7.2},{"x":46.83,"y":11.27,"v":-7.2},{"x":46.68,"y":11.15,"v":-7.2},{"x":45.93,"y":10.9,"v":-7},{"x":45.33,"y":10.9,"v":-7.2}],
"a8":[{"x":42.83,"y":10.82},{"x":43.06,"y":10.84},{"x":43.58,"y":11.02},{"x":44.04,"y":11.2},{"x":44.61,"y":11.36},{"x":44.96,"y":11.46},{"x":45.48,"y":11.58},{"x":45.94,"y":11.66},{"x":46.22,"y":11.66},{"x":46.43,"y":11.63},{"x":46.48,"y":11.66},{"x":46.8,"y":11.67}],
"b8":[{"x":42,"y":11.64},{"x":42.55,"y":11.75},{"x":42.98,"y":11.84},{"x":43.47,"y":12},{"x":43.81,"y":12.13},{"x":44.13,"y":12.28},{"x":44.38,"y":12.4}]
},
"hconcat":[{"columns":3,"spacing":7,"bounds":"flush","resolve":{"scale":{"color":"shared"}},"concat":[
{"width":349,"height":348,"encoding":{"x":{"field":"x","type":"quantitative","axis":null,"scale":{"domain":[42,48],"nice":false,"zero":false}},"y":{"field":"y","type":"quantitative","axis":null,"scale":{"domain":[10.8,15.6],"nice":false,"zero":false}}},"resolve":{"axis":{"x":"independent","y":"independent"}},"layer":[
{"data":{"name":"c6"},"mark":{"type":"rect","width":17.8,"height":17.8},"encoding":{"color":{"field":"v","type":"quantitative"},"x":{"field":"x","type":"quantitative","axis":{"orient":"bottom","labels":false,"title":null,"values":[42,42.5,43,43.5,44,44.5,45,45.5,46,46.5,47,47.5,48],"tickSize":{"condition":{"test":"datum.value%2==0","value":-13},"value":-7}}},"y":{"field":"y","type":"quantitative","axis":{"orient":"left","values":[11,11.2,11.4,11.6,11.8,12,12.2,12.4,12.6,12.8,13,13.2,13.4,13.6,13.8,14,14.2,14.4,14.6,14.8,15,15.2,15.4],"tickSize":{"condition":{"test":"datum.value%1==0","value":-13},"value":-7},"labelExpr":"datum.value%1==0?datum.value+'':''","labelPadding":26,"titlePadding":12,"title":"Log₁₀(MHalo)\u00a0\u00a0[M⊙]"}}}},
{"data":{"name":"f6"},"mark":{"type":"rect","width":8.8,"height":8.8},"encoding":{"color":{"field":"v","type":"quantitative"}}},
{"data":{"values":[{"x":42,"y":13.08},{"x":48,"y":13.08}]},"mark":{"type":"line","color":"#333","strokeWidth":1.3,"strokeDash":[2,4]},"encoding":{}},
{"data":{"name":"a6"},"mark":{"type":"line","color":"#fdf3e3","strokeWidth":2.6,"strokeDash":[14,7],"clip":true},"encoding":{}},
{"data":{"name":"b6"},"mark":{"type":"line","color":"#fdf3e3","strokeWidth":2.6,"strokeDash":[16,8,3,8],"clip":true},"encoding":{}},
{"data":{"values":[{"x":47.55,"y":15.1,"t":"z\u00a0\u00a0=\u00a0\u00a05.3"}]},"mark":{"type":"text","align":"right","fontSize":19,"color":"#333"},"encoding":{"text":{"field":"t"},"x":{"field":"x","type":"quantitative","axis":{"orient":"top","labels":false,"title":null,"values":[42,42.5,43,43.5,44,44.5,45,45.5,46,46.5,47,47.5,48],"tickSize":{"condition":{"test":"datum.value%2==0","value":-13},"value":-7}}},"y":{"field":"y","type":"quantitative","axis":{"orient":"right","labels":false,"title":null,"values":[11,11.2,11.4,11.6,11.8,12,12.2,12.4,12.6,12.8,13,13.2,13.4,13.6,13.8,14,14.2,14.4,14.6,14.8,15,15.2,15.4],"tickSize":{"condition":{"test":"datum.value%1==0","value":-13},"value":-7}}}}}]},
{"width":349,"height":348,"encoding":{"x":{"field":"x","type":"quantitative","axis":null,"scale":{"domain":[42,48],"nice":false,"zero":false}},"y":{"field":"y","type":"quantitative","axis":null,"scale":{"domain":[10.8,15.6],"nice":false,"zero":false}}},"resolve":{"axis":{"x":"independent","y":"independent"}},"layer":[
{"data":{"name":"c7"},"mark":{"type":"rect","width":17.8,"height":17.8},"encoding":{"color":{"field":"v","type":"quantitative"},"x":{"field":"x","type":"quantitative","axis":{"orient":"bottom","labels":false,"title":null,"values":[42,42.5,43,43.5,44,44.5,45,45.5,46,46.5,47,47.5,48],"tickSize":{"condition":{"test":"datum.value%2==0","value":-13},"value":-7}}},"y":{"field":"y","type":"quantitative","axis":{"orient":"left","labels":false,"title":null,"values":[11,11.2,11.4,11.6,11.8,12,12.2,12.4,12.6,12.8,13,13.2,13.4,13.6,13.8,14,14.2,14.4,14.6,14.8,15,15.2,15.4],"tickSize":{"condition":{"test":"datum.value%1==0","value":-13},"value":-7}}}}},
{"data":{"name":"f7"},"mark":{"type":"rect","width":8.8,"height":8.8},"encoding":{"color":{"field":"v","type":"quantitative"}}},
{"data":{"values":[{"x":42,"y":12.97},{"x":48,"y":12.97}]},"mark":{"type":"line","color":"#333","strokeWidth":1.3,"strokeDash":[2,4]},"encoding":{}},
{"data":{"name":"a7"},"mark":{"type":"line","color":"#fdf3e3","strokeWidth":2.6,"strokeDash":[14,7],"clip":true},"encoding":{}},
{"data":{"name":"b7"},"mark":{"type":"line","color":"#fdf3e3","strokeWidth":2.6,"strokeDash":[16,8,3,8],"clip":true},"encoding":{}},
{"data":{"values":[{"x":47.55,"y":15.1,"t":"z\u00a0\u00a0=\u00a0\u00a05.7"}]},"mark":{"type":"text","align":"right","fontSize":19,"color":"#333"},"encoding":{"text":{"field":"t"},"x":{"field":"x","type":"quantitative","axis":{"orient":"top","labels":false,"title":null,"values":[42,42.5,43,43.5,44,44.5,45,45.5,46,46.5,47,47.5,48],"tickSize":{"condition":{"test":"datum.value%2==0","value":-13},"value":-7}}},"y":{"field":"y","type":"quantitative","axis":{"orient":"right","labels":false,"title":null,"values":[11,11.2,11.4,11.6,11.8,12,12.2,12.4,12.6,12.8,13,13.2,13.4,13.6,13.8,14,14.2,14.4,14.6,14.8,15,15.2,15.4],"tickSize":{"condition":{"test":"datum.value%1==0","value":-13},"value":-7}}}}}]},
{"width":349,"height":348,"encoding":{"x":{"field":"x","type":"quantitative","axis":null,"scale":{"domain":[42,48],"nice":false,"zero":false}},"y":{"field":"y","type":"quantitative","axis":null,"scale":{"domain":[10.8,15.6],"nice":false,"zero":false}}},"resolve":{"axis":{"x":"independent","y":"independent"}},"layer":[
{"data":{"name":"c8"},"mark":{"type":"rect","width":17.8,"height":17.8},"encoding":{"color":{"field":"v","type":"quantitative"},"x":{"field":"x","type":"quantitative","axis":{"orient":"bottom","labels":false,"title":null,"values":[42,42.5,43,43.5,44,44.5,45,45.5,46,46.5,47,47.5,48],"tickSize":{"condition":{"test":"datum.value%2==0","value":-13},"value":-7}}},"y":{"field":"y","type":"quantitative","axis":{"orient":"left","labels":false,"title":null,"values":[11,11.2,11.4,11.6,11.8,12,12.2,12.4,12.6,12.8,13,13.2,13.4,13.6,13.8,14,14.2,14.4,14.6,14.8,15,15.2,15.4],"tickSize":{"condition":{"test":"datum.value%1==0","value":-13},"value":-7}}}}},
{"data":{"name":"f8"},"mark":{"type":"rect","width":8.8,"height":8.8},"encoding":{"color":{"field":"v","type":"quantitative"}}},
{"data":{"values":[{"x":42,"y":12.86},{"x":48,"y":12.86}]},"mark":{"type":"line","color":"#333","strokeWidth":1.3,"strokeDash":[2,4]},"encoding":{}},
{"data":{"name":"a8"},"mark":{"type":"line","color":"#fdf3e3","strokeWidth":2.6,"strokeDash":[14,7],"clip":true},"encoding":{}},
{"data":{"name":"b8"},"mark":{"type":"line","color":"#fdf3e3","strokeWidth":2.6,"strokeDash":[16,8,3,8],"clip":true},"encoding":{}},
{"data":{"values":[{"x":47.55,"y":15.1,"t":"z\u00a0\u00a0=\u00a0\u00a06.2"}]},"mark":{"type":"text","align":"right","fontSize":19,"color":"#333"},"encoding":{"text":{"field":"t"},"x":{"field":"x","type":"quantitative","axis":{"orient":"top","labels":false,"title":null,"values":[42,42.5,43,43.5,44,44.5,45,45.5,46,46.5,47,47.5,48],"tickSize":{"condition":{"test":"datum.value%2==0","value":-13},"value":-7}}},"y":{"field":"y","type":"quantitative","axis":{"orient":"right","labels":false,"title":null,"values":[11,11.2,11.4,11.6,11.8,12,12.2,12.4,12.6,12.8,13,13.2,13.4,13.6,13.8,14,14.2,14.4,14.6,14.8,15,15.2,15.4],"tickSize":{"condition":{"test":"datum.value%1==0","value":-13},"value":-7}}}}}]},
{"width":349,"height":348,"encoding":{"x":{"field":"x","type":"quantitative","axis":null,"scale":{"domain":[42,48],"nice":false,"zero":false}},"y":{"field":"y","type":"quantitative","axis":null,"scale":{"domain":[10.8,15.6],"nice":false,"zero":false}}},"resolve":{"axis":{"x":"independent","y":"independent"}},"layer":[
{"data":{"name":"c3"},"mark":{"type":"rect","width":17.8,"height":17.8},"encoding":{"color":{"field":"v","type":"quantitative"},"x":{"field":"x","type":"quantitative","axis":{"orient":"bottom","labels":false,"title":null,"values":[42,42.5,43,43.5,44,44.5,45,45.5,46,46.5,47,47.5,48],"tickSize":{"condition":{"test":"datum.value%2==0","value":-13},"value":-7}}},"y":{"field":"y","type":"quantitative","axis":{"orient":"left","values":[11,11.2,11.4,11.6,11.8,12,12.2,12.4,12.6,12.8,13,13.2,13.4,13.6,13.8,14,14.2,14.4,14.6,14.8,15,15.2,15.4],"tickSize":{"condition":{"test":"datum.value%1==0","value":-13},"value":-7},"labelExpr":"datum.value%1==0?datum.value+'':''","labelPadding":26,"titlePadding":12,"title":"Log₁₀(MHalo)\u00a0\u00a0[M⊙]"}}}},
{"data":{"name":"f3"},"mark":{"type":"rect","width":8.8,"height":8.8},"encoding":{"color":{"field":"v","type":"quantitative"}}},
{"data":{"values":[{"x":42,"y":14.19},{"x":48,"y":14.19}]},"mark":{"type":"line","color":"#333","strokeWidth":1.3,"strokeDash":[2,4]},"encoding":{}},
{"data":{"name":"a3"},"mark":{"type":"line","color":"#fdf3e3","strokeWidth":2.6,"strokeDash":[14,7],"clip":true},"encoding":{}},
{"data":{"name":"b3"},"mark":{"type":"line","color":"#fdf3e3","strokeWidth":2.6,"strokeDash":[16,8,3,8],"clip":true},"encoding":{}},
{"data":{"values":[{"x":47.55,"y":15.1,"t":"z\u00a0\u00a0=\u00a0\u00a02.2"}]},"mark":{"type":"text","align":"right","fontSize":19,"color":"#333"},"encoding":{"text":{"field":"t"},"x":{"field":"x","type":"quantitative","axis":{"orient":"top","labels":false,"title":null,"values":[42,42.5,43,43.5,44,44.5,45,45.5,46,46.5,47,47.5,48],"tickSize":{"condition":{"test":"datum.value%2==0","value":-13},"value":-7}}},"y":{"field":"y","type":"quantitative","axis":{"orient":"right","labels":false,"title":null,"values":[11,11.2,11.4,11.6,11.8,12,12.2,12.4,12.6,12.8,13,13.2,13.4,13.6,13.8,14,14.2,14.4,14.6,14.8,15,15.2,15.4],"tickSize":{"condition":{"test":"datum.value%1==0","value":-13},"value":-7}}}}}]},
{"width":349,"height":348,"encoding":{"x":{"field":"x","type":"quantitative","axis":null,"scale":{"domain":[42,48],"nice":false,"zero":false}},"y":{"field":"y","type":"quantitative","axis":null,"scale":{"domain":[10.8,15.6],"nice":false,"zero":false}}},"resolve":{"axis":{"x":"independent","y":"independent"}},"layer":[
{"data":{"name":"c4"},"mark":{"type":"rect","width":17.8,"height":17.8},"encoding":{"color":{"field":"v","type":"quantitative"},"x":{"field":"x","type":"quantitative","axis":{"orient":"bottom","labels":false,"title":null,"values":[42,42.5,43,43.5,44,44.5,45,45.5,46,46.5,47,47.5,48],"tickSize":{"condition":{"test":"datum.value%2==0","value":-13},"value":-7}}},"y":{"field":"y","type":"quantitative","axis":{"orient":"left","labels":false,"title":null,"values":[11,11.2,11.4,11.6,11.8,12,12.2,12.4,12.6,12.8,13,13.2,13.4,13.6,13.8,14,14.2,14.4,14.6,14.8,15,15.2,15.4],"tickSize":{"condition":{"test":"datum.value%1==0","value":-13},"value":-7}}}}},
{"data":{"name":"f4"},"mark":{"type":"rect","width":8.8,"height":8.8},"encoding":{"color":{"field":"v","type":"quantitative"}}},
{"data":{"values":[{"x":42,"y":13.7},{"x":48,"y":13.7}]},"mark":{"type":"line","color":"#333","strokeWidth":1.3,"strokeDash":[2,4]},"encoding":{}},
{"data":{"name":"a4"},"mark":{"type":"line","color":"#fdf3e3","strokeWidth":2.6,"strokeDash":[14,7],"clip":true},"encoding":{}},
{"data":{"name":"b4"},"mark":{"type":"line","color":"#fdf3e3","strokeWidth":2.6,"strokeDash":[16,8,3,8],"clip":true},"encoding":{}},
{"data":{"values":[{"x":47.55,"y":15.1,"t":"z\u00a0\u00a0=\u00a0\u00a03.6"}]},"mark":{"type":"text","align":"right","fontSize":19,"color":"#333"},"encoding":{"text":{"field":"t"},"x":{"field":"x","type":"quantitative","axis":{"orient":"top","labels":false,"title":null,"values":[42,42.5,43,43.5,44,44.5,45,45.5,46,46.5,47,47.5,48],"tickSize":{"condition":{"test":"datum.value%2==0","value":-13},"value":-7}}},"y":{"field":"y","type":"quantitative","axis":{"orient":"right","labels":false,"title":null,"values":[11,11.2,11.4,11.6,11.8,12,12.2,12.4,12.6,12.8,13,13.2,13.4,13.6,13.8,14,14.2,14.4,14.6,14.8,15,15.2,15.4],"tickSize":{"condition":{"test":"datum.value%1==0","value":-13},"value":-7}}}}}]},
{"width":349,"height":348,"encoding":{"x":{"field":"x","type":"quantitative","axis":null,"scale":{"domain":[42,48],"nice":false,"zero":false}},"y":{"field":"y","type":"quantitative","axis":null,"scale":{"domain":[10.8,15.6],"nice":false,"zero":false}}},"resolve":{"axis":{"x":"independent","y":"independent"}},"layer":[
{"data":{"name":"c5"},"mark":{"type":"rect","width":17.8,"height":17.8},"encoding":{"color":{"field":"v","type":"quantitative"},"x":{"field":"x","type":"quantitative","axis":{"orient":"bottom","labels":false,"title":null,"values":[42,42.5,43,43.5,44,44.5,45,45.5,46,46.5,47,47.5,48],"tickSize":{"condition":{"test":"datum.value%2==0","value":-13},"value":-7}}},"y":{"field":"y","type":"quantitative","axis":{"orient":"left","labels":false,"title":null,"values":[11,11.2,11.4,11.6,11.8,12,12.2,12.4,12.6,12.8,13,13.2,13.4,13.6,13.8,14,14.2,14.4,14.6,14.8,15,15.2,15.4],"tickSize":{"condition":{"test":"datum.value%1==0","value":-13},"value":-7}}}}},
{"data":{"name":"f5"},"mark":{"type":"rect","width":8.8,"height":8.8},"encoding":{"color":{"field":"v","type":"quantitative"}}},
{"data":{"values":[{"x":42,"y":13.3},{"x":48,"y":13.3}]},"mark":{"type":"line","color":"#333","strokeWidth":1.3,"strokeDash":[2,4]},"encoding":{}},
{"data":{"name":"a5"},"mark":{"type":"line","color":"#fdf3e3","strokeWidth":2.6,"strokeDash":[14,7],"clip":true},"encoding":{}},
{"data":{"name":"b5"},"mark":{"type":"line","color":"#fdf3e3","strokeWidth":2.6,"strokeDash":[16,8,3,8],"clip":true},"encoding":{}},
{"data":{"values":[{"x":47.55,"y":15.1,"t":"z\u00a0\u00a0=\u00a0\u00a04.5"}]},"mark":{"type":"text","align":"right","fontSize":19,"color":"#333"},"encoding":{"text":{"field":"t"},"x":{"field":"x","type":"quantitative","axis":{"orient":"top","labels":false,"title":null,"values":[42,42.5,43,43.5,44,44.5,45,45.5,46,46.5,47,47.5,48],"tickSize":{"condition":{"test":"datum.value%2==0","value":-13},"value":-7}}},"y":{"field":"y","type":"quantitative","axis":{"orient":"right","labels":false,"title":null,"values":[11,11.2,11.4,11.6,11.8,12,12.2,12.4,12.6,12.8,13,13.2,13.4,13.6,13.8,14,14.2,14.4,14.6,14.8,15,15.2,15.4],"tickSize":{"condition":{"test":"datum.value%1==0","value":-13},"value":-7}}}}}]},
{"width":349,"height":348,"encoding":{"x":{"field":"x","type":"quantitative","axis":null,"scale":{"domain":[42,48],"nice":false,"zero":false}},"y":{"field":"y","type":"quantitative","axis":null,"scale":{"domain":[10.8,15.6],"nice":false,"zero":false}}},"resolve":{"axis":{"x":"independent","y":"independent"}},"layer":[
{"data":{"name":"c0"},"mark":{"type":"rect","width":17.8,"height":17.8},"encoding":{"color":{"field":"v","type":"quantitative"},"x":{"field":"x","type":"quantitative","axis":{"orient":"bottom","values":[42,42.5,43,43.5,44,44.5,45,45.5,46,46.5,47,47.5,48],"tickSize":{"condition":{"test":"datum.value%2==0","value":-13},"value":-7},"labelExpr":"datum.value%2==0?datum.value+'':''","labelPadding":26,"titlePadding":9,"titleFontSize":20,"title":"Log₁₀(Lbol)\u00a0\u00a0[erg/s]"}},"y":{"field":"y","type":"quantitative","axis":{"orient":"left","values":[11,11.2,11.4,11.6,11.8,12,12.2,12.4,12.6,12.8,13,13.2,13.4,13.6,13.8,14,14.2,14.4,14.6,14.8,15,15.2,15.4],"tickSize":{"condition":{"test":"datum.value%1==0","value":-13},"value":-7},"labelExpr":"datum.value%1==0?datum.value+'':''","labelPadding":26,"titlePadding":12,"title":"Log₁₀(MHalo)\u00a0\u00a0[M⊙]"}}}},
{"data":{"name":"f0"},"mark":{"type":"rect","width":8.8,"height":8.8},"encoding":{"color":{"field":"v","type":"quantitative"}}},
{"data":{"values":[{"x":42,"y":15.38},{"x":48,"y":15.38}]},"mark":{"type":"line","color":"#333","strokeWidth":1.3,"strokeDash":[2,4]},"encoding":{}},
{"data":{"name":"a0"},"mark":{"type":"line","color":"#fdf3e3","strokeWidth":2.6,"strokeDash":[14,7],"clip":true},"encoding":{}},
{"data":{"name":"b0"},"mark":{"type":"line","color":"#fdf3e3","strokeWidth":2.6,"strokeDash":[16,8,3,8],"clip":true},"encoding":{}},
{"data":{"values":[{"x":47.55,"y":15.1,"t":"z\u00a0\u00a0=\u00a0\u00a00.0"}]},"mark":{"type":"text","align":"right","fontSize":19,"color":"#333"},"encoding":{"text":{"field":"t"},"x":{"field":"x","type":"quantitative","axis":{"orient":"top","labels":false,"title":null,"values":[42,42.5,43,43.5,44,44.5,45,45.5,46,46.5,47,47.5,48],"tickSize":{"condition":{"test":"datum.value%2==0","value":-13},"value":-7}}},"y":{"field":"y","type":"quantitative","axis":{"orient":"right","labels":false,"title":null,"values":[11,11.2,11.4,11.6,11.8,12,12.2,12.4,12.6,12.8,13,13.2,13.4,13.6,13.8,14,14.2,14.4,14.6,14.8,15,15.2,15.4],"tickSize":{"condition":{"test":"datum.value%1==0","value":-13},"value":-7}}}}}]},
{"width":349,"height":348,"encoding":{"x":{"field":"x","type":"quantitative","axis":null,"scale":{"domain":[42,48],"nice":false,"zero":false}},"y":{"field":"y","type":"quantitative","axis":null,"scale":{"domain":[10.8,15.6],"nice":false,"zero":false}}},"resolve":{"axis":{"x":"independent","y":"independent"}},"layer":[
{"data":{"name":"c1"},"mark":{"type":"rect","width":17.8,"height":17.8},"encoding":{"color":{"field":"v","type":"quantitative"},"x":{"field":"x","type":"quantitative","axis":{"orient":"bottom","values":[42,42.5,43,43.5,44,44.5,45,45.5,46,46.5,47,47.5,48],"tickSize":{"condition":{"test":"datum.value%2==0","value":-13},"value":-7},"labelExpr":"datum.value%2==0&&datum.value>42?datum.value+'':''","labelPadding":26,"titlePadding":9,"titleFontSize":20,"title":"Log₁₀(Lbol)\u00a0\u00a0[erg/s]"}},"y":{"field":"y","type":"quantitative","axis":{"orient":"left","labels":false,"title":null,"values":[11,11.2,11.4,11.6,11.8,12,12.2,12.4,12.6,12.8,13,13.2,13.4,13.6,13.8,14,14.2,14.4,14.6,14.8,15,15.2,15.4],"tickSize":{"condition":{"test":"datum.value%1==0","value":-13},"value":-7}}}}},
{"data":{"name":"f1"},"mark":{"type":"rect","width":8.8,"height":8.8},"encoding":{"color":{"field":"v","type":"quantitative"}}},
{"data":{"values":[{"x":42,"y":14.87},{"x":48,"y":14.87}]},"mark":{"type":"line","color":"#333","strokeWidth":1.3,"strokeDash":[2,4]},"encoding":{}},
{"data":{"name":"a1"},"mark":{"type":"line","color":"#fdf3e3","strokeWidth":2.6,"strokeDash":[14,7],"clip":true},"encoding":{}},
{"data":{"name":"b1"},"mark":{"type":"line","color":"#fdf3e3","strokeWidth":2.6,"strokeDash":[16,8,3,8],"clip":true},"encoding":{}},
{"data":{"values":[{"x":47.55,"y":15.1,"t":"z\u00a0\u00a0=\u00a0\u00a00.8"}]},"mark":{"type":"text","align":"right","fontSize":19,"color":"#333"},"encoding":{"text":{"field":"t"},"x":{"field":"x","type":"quantitative","axis":{"orient":"top","labels":false,"title":null,"values":[42,42.5,43,43.5,44,44.5,45,45.5,46,46.5,47,47.5,48],"tickSize":{"condition":{"test":"datum.value%2==0","value":-13},"value":-7}}},"y":{"field":"y","type":"quantitative","axis":{"orient":"right","labels":false,"title":null,"values":[11,11.2,11.4,11.6,11.8,12,12.2,12.4,12.6,12.8,13,13.2,13.4,13.6,13.8,14,14.2,14.4,14.6,14.8,15,15.2,15.4],"tickSize":{"condition":{"test":"datum.value%1==0","value":-13},"value":-7}}}}}]},
{"width":349,"height":348,"encoding":{"x":{"field":"x","type":"quantitative","axis":null,"scale":{"domain":[42,48],"nice":false,"zero":false}},"y":{"field":"y","type":"quantitative","axis":null,"scale":{"domain":[10.8,15.6],"nice":false,"zero":false}}},"resolve":{"axis":{"x":"independent","y":"independent"}},"layer":[
{"data":{"name":"c2"},"mark":{"type":"rect","width":17.8,"height":17.8},"encoding":{"color":{"field":"v","type":"quantitative"},"x":{"field":"x","type":"quantitative","axis":{"orient":"bottom","values":[42,42.5,43,43.5,44,44.5,45,45.5,46,46.5,47,47.5,48],"tickSize":{"condition":{"test":"datum.value%2==0","value":-13},"value":-7},"labelExpr":"datum.value%2==0&&datum.value>42?datum.value+'':''","labelPadding":26,"titlePadding":9,"titleFontSize":20,"title":"Log₁₀(Lbol)\u00a0\u00a0[erg/s]"}},"y":{"field":"y","type":"quantitative","axis":{"orient":"left","labels":false,"title":null,"values":[11,11.2,11.4,11.6,11.8,12,12.2,12.4,12.6,12.8,13,13.2,13.4,13.6,13.8,14,14.2,14.4,14.6,14.8,15,15.2,15.4],"tickSize":{"condition":{"test":"datum.value%1==0","value":-13},"value":-7}}}}},
{"data":{"name":"f2"},"mark":{"type":"rect","width":8.8,"height":8.8},"encoding":{"color":{"field":"v","type":"quantitative"}}},
{"data":{"values":[{"x":42,"y":14.43},{"x":48,"y":14.43}]},"mark":{"type":"line","color":"#333","strokeWidth":1.3,"strokeDash":[2,4]},"encoding":{}},
{"data":{"name":"a2"},"mark":{"type":"line","color":"#fdf3e3","strokeWidth":2.6,"strokeDash":[14,7],"clip":true},"encoding":{}},
{"data":{"name":"b2"},"mark":{"type":"line","color":"#fdf3e3","strokeWidth":2.6,"strokeDash":[16,8,3,8],"clip":true},"encoding":{}},
{"data":{"values":[{"x":47.55,"y":15.1,"t":"z\u00a0\u00a0=\u00a0\u00a01.5"}]},"mark":{"type":"text","align":"right","fontSize":19,"color":"#333"},"encoding":{"text":{"field":"t"},"x":{"field":"x","type":"quantitative","axis":{"orient":"top","labels":false,"title":null,"values":[42,42.5,43,43.5,44,44.5,45,45.5,46,46.5,47,47.5,48],"tickSize":{"condition":{"test":"datum.value%2==0","value":-13},"value":-7}}},"y":{"field":"y","type":"quantitative","axis":{"orient":"right","labels":false,"title":null,"values":[11,11.2,11.4,11.6,11.8,12,12.2,12.4,12.6,12.8,13,13.2,13.4,13.6,13.8,14,14.2,14.4,14.6,14.8,15,15.2,15.4],"tickSize":{"condition":{"test":"datum.value%1==0","value":-13},"value":-7}}}}}]}
]},
{"width":31,"height":1061,"resolve":{"axis":{"y":"independent"}},"layer":[
{"data":{"values":[{"v":-2.56,"a":-2.62,"b":-2.5},{"v":-2.68,"a":-2.74,"b":-2.62},{"v":-2.8,"a":-2.86,"b":-2.74},{"v":-2.92,"a":-2.98,"b":-2.86},{"v":-3.04,"a":-3.1,"b":-2.98},{"v":-3.16,"a":-3.22,"b":-3.1},{"v":-3.28,"a":-3.34,"b":-3.22},{"v":-3.4,"a":-3.46,"b":-3.34},{"v":-3.52,"a":-3.58,"b":-3.46},{"v":-3.64,"a":-3.7,"b":-3.58},{"v":-3.76,"a":-3.82,"b":-3.7},{"v":-3.88,"a":-3.94,"b":-3.82},{"v":-4,"a":-4.06,"b":-3.94},{"v":-4.12,"a":-4.18,"b":-4.06},{"v":-4.24,"a":-4.3,"b":-4.18},{"v":-4.36,"a":-4.42,"b":-4.3},{"v":-4.48,"a":-4.54,"b":-4.42},{"v":-4.6,"a":-4.66,"b":-4.54},{"v":-4.72,"a":-4.78,"b":-4.66},{"v":-4.84,"a":-4.9,"b":-4.78},{"v":-4.96,"a":-5.02,"b":-4.9},{"v":-5.08,"a":-5.14,"b":-5.02},{"v":-5.2,"a":-5.26,"b":-5.14},{"v":-5.32,"a":-5.38,"b":-5.26},{"v":-5.44,"a":-5.5,"b":-5.38},{"v":-5.56,"a":-5.62,"b":-5.5},{"v":-5.68,"a":-5.74,"b":-5.62},{"v":-5.8,"a":-5.86,"b":-5.74},{"v":-5.92,"a":-5.98,"b":-5.86},{"v":-6.04,"a":-6.1,"b":-5.98},{"v":-6.16,"a":-6.22,"b":-6.1},{"v":-6.28,"a":-6.34,"b":-6.22},{"v":-6.4,"a":-6.46,"b":-6.34},{"v":-6.52,"a":-6.58,"b":-6.46},{"v":-6.64,"a":-6.7,"b":-6.58},{"v":-6.76,"a":-6.82,"b":-6.7},{"v":-6.88,"a":-6.94,"b":-6.82},{"v":-7,"a":-7.06,"b":-6.94},{"v":-7.12,"a":-7.18,"b":-7.06},{"v":-7.24,"a":-7.3,"b":-7.18},{"v":-7.36,"a":-7.42,"b":-7.3},{"v":-7.46,"a":-7.5,"b":-7.42}]},"mark":"rect","encoding":{"x":{"datum":0,"scale":{"domain":[0,1]},"axis":null},"x2":{"datum":1},"y":{"field":"a","type":"quantitative","scale":{"domain":[-7.5,-2.5],"range":[1061,3],"nice":false,"zero":false},"axis":{"orient":"right","values":[-7.5,-7.4,-7.3,-7.2,-7.1,-7,-6.9,-6.8,-6.7,-6.6,-6.5,-6.4,-6.3,-6.2,-6.1,-6,-5.9,-5.8,-5.7,-5.6,-5.5,-5.4,-5.3,-5.2,-5.1,-5,-4.9,-4.8,-4.7,-4.6,-4.5,-4.4,-4.3,-4.2,-4.1,-4,-3.9,-3.8,-3.7,-3.6,-3.5,-3.4,-3.3,-3.2,-3.1,-3,-2.9,-2.8,-2.7,-2.6,-2.5],"tickSize":{"condition":{"test":"abs(datum.value*2-round(datum.value*2))<0.01","value":-13},"value":-6},"labelExpr":"abs(datum.value*2-round(datum.value*2))<0.01?format(datum.value,'~g'):''","labelPadding":24,"title":null}},"y2":{"field":"b"},"color":{"field":"v","type":"quantitative","scale":{"domain":[-7.5,-7,-6.5,-6,-5.5,-5,-4.5,-4,-3.5,-3,-2.5],"range":["#00ff00","#18d800","#30b000","#4a9000","#668000","#7f6000","#904000","#b00000","#c83200","#e07000","#ffaa00"]}}}},
{"data":{"values":[{"a":-7.5,"b":-2.5}]},"mark":{"type":"rect","fill":null,"stroke":"#333","strokeWidth":2.5},"encoding":{"x":{"datum":0,"axis":null},"x2":{"datum":1},"y":{"field":"a","type":"quantitative","axis":{"orient":"left","labels":false,"values":[-7.5,-7.4,-7.3,-7.2,-7.1,-7,-6.9,-6.8,-6.7,-6.6,-6.5,-6.4,-6.3,-6.2,-6.1,-6,-5.9,-5.8,-5.7,-5.6,-5.5,-5.4,-5.3,-5.2,-5.1,-5,-4.9,-4.8,-4.7,-4.6,-4.5,-4.4,-4.3,-4.2,-4.1,-4,-3.9,-3.8,-3.7,-3.6,-3.5,-3.4,-3.3,-3.2,-3.1,-3,-2.9,-2.8,-2.7,-2.6,-2.5],"tickSize":{"condition":{"test":"abs(datum.value*2-round(datum.value*2))<0.01","value":-13},"value":-6},"title":"Log₁₀(dn/dlog(Lbol)/dlog(MHalo))\u00a0\u00a0[Mpc⁻³\u00a0M⊙⁻¹\u00a0erg⁻¹\u00a0s]","titlePadding":14}},"y2":{"field":"b"}}}]}
],"spacing":-2,"bounds":"full","resolve":{"scale":{"color":"shared"}}}
